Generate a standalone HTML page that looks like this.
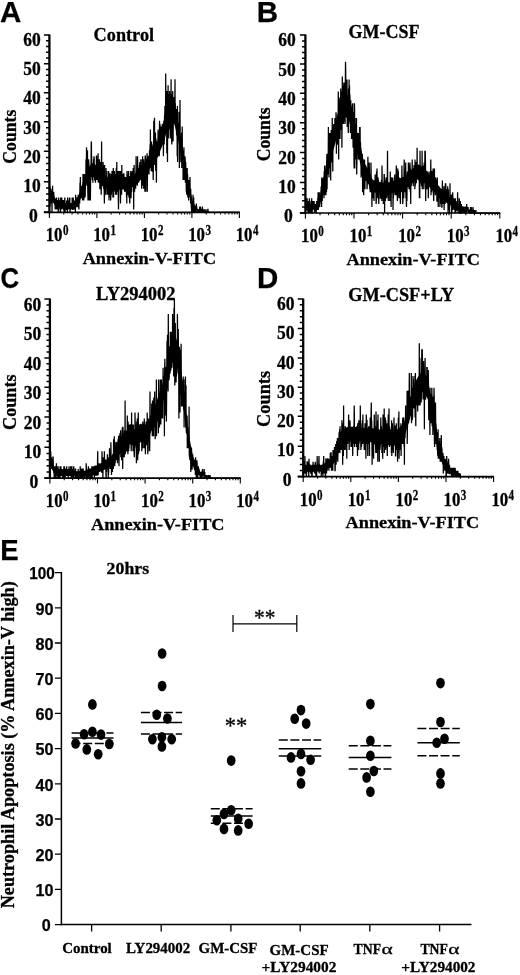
<!DOCTYPE html>
<html><head><meta charset="utf-8"><title>Figure</title>
<style>
html,body{margin:0;padding:0;background:#fff;}
body{width:520px;height:975px;overflow:hidden;font-family:"Liberation Serif",serif;}
svg{display:block;will-change:transform;transform:translateZ(0);}
.sf{font-family:"Liberation Serif",serif;font-weight:bold;fill:#000;stroke:#000;stroke-width:0.3px;}
.ss{font-family:"Liberation Sans",sans-serif;font-weight:bold;fill:#000;stroke:#000;stroke-width:0.25px;}
</style></head><body>
<svg width="520" height="975" viewBox="0 0 520 975">
<defs><filter id="soft" x="0" y="0" width="100%" height="100%" filterUnits="userSpaceOnUse"><feGaussianBlur stdDeviation="0.38"/></filter></defs>
<rect width="520" height="975" fill="#fff"/>
<g filter="url(#soft)">
<rect width="520" height="975" fill="#fff"/>
<!-- panel A -->
<path d="M49.4,184.3 50.1,186.2 50.9,188.7 51.6,191.3 52.4,193.4 53.1,194.9 53.9,196.1 54.6,197.3 55.3,198.5 56.1,199.6 56.8,200.4 57.6,200.8 58.3,201.1 59.1,201.4 59.8,201.7 60.5,202.0 61.3,202.2 62.0,202.5 62.8,202.8 63.5,203.1 64.3,203.2 65.0,203.3 65.7,203.3 66.5,203.4 67.2,203.5 68.0,203.5 68.7,203.6 69.5,203.6 70.2,203.7 70.9,203.7 71.7,203.8 72.4,203.8 73.2,203.7 73.9,203.2 74.7,202.5 75.4,201.8 76.1,201.1 76.9,200.0 77.6,198.3 78.4,196.2 79.1,194.1 79.9,192.0 80.6,189.9 81.3,187.8 82.1,185.5 82.8,183.0 83.6,180.4 84.3,177.9 85.1,175.3 85.8,172.8 86.5,170.8 87.3,169.4 88.0,168.4 88.8,167.3 89.5,166.3 90.3,165.2 91.0,164.2 91.7,163.3 92.5,163.0 93.2,163.3 94.0,163.8 94.7,164.3 95.5,164.8 96.2,165.3 96.9,166.1 97.7,167.1 98.4,168.4 99.2,169.6 99.9,170.9 100.7,172.1 101.4,173.3 102.1,174.0 102.9,174.5 103.6,174.8 104.4,175.2 105.1,175.6 105.9,176.0 106.6,176.4 107.3,176.7 108.1,177.1 108.8,177.5 109.6,177.9 110.3,178.2 111.1,178.5 111.8,178.6 112.5,178.6 113.3,178.6 114.0,178.6 114.8,178.6 115.5,178.6 116.3,178.5 117.0,178.5 117.7,178.5 118.5,178.5 119.2,178.5 120.0,178.4 120.7,178.4 121.5,178.4 122.2,178.3 122.9,178.2 123.7,178.0 124.4,177.8 125.2,177.5 125.9,177.3 126.7,177.1 127.4,176.8 128.1,176.6 128.9,176.4 129.6,176.1 130.4,175.9 131.1,175.7 131.9,175.4 132.6,175.2 133.3,174.9 134.1,174.5 134.8,173.7 135.6,172.8 136.3,171.9 137.1,171.0 137.8,170.1 138.5,169.2 139.3,168.3 140.0,167.4 140.8,166.5 141.5,165.6 142.3,164.7 143.0,163.8 143.7,162.9 144.5,162.0 145.2,161.0 146.0,159.9 146.7,158.8 147.5,157.6 148.2,156.4 149.0,155.2 149.7,154.0 150.4,152.8 151.2,151.6 151.9,150.4 152.7,149.2 153.4,148.0 154.2,146.8 154.9,145.7 155.6,144.5 156.4,143.3 157.1,141.9 157.9,140.1 158.6,138.0 159.4,135.9 160.1,133.8 160.8,131.7 161.6,129.6 162.3,127.5 163.1,125.3 163.8,123.0 164.6,120.3 165.3,117.3 166.0,114.4 166.8,111.4 167.5,108.4 168.3,105.9 169.0,104.0 169.8,102.4 170.5,100.9 171.2,100.2 172.0,100.6 172.7,101.3 173.5,102.0 174.2,103.3 175.0,105.9 175.7,109.3 176.4,112.8 177.2,116.3 177.9,119.9 178.7,123.9 179.4,128.4 180.2,133.3 180.9,138.3 181.6,143.2 182.4,148.1 183.1,153.1 183.9,158.1 184.6,162.8 185.4,166.8 186.1,170.3 186.8,173.8 187.6,177.3 188.3,180.7 189.1,184.2 189.8,187.6 190.6,191.1 191.3,194.6 192.0,198.1 192.8,201.1 193.5,203.0 194.3,204.1 195.0,205.2 195.8,206.3 196.5,207.5 L196.5,211.2 195.8,210.5 195.0,209.9 194.3,209.2 193.5,208.5 192.8,207.2 192.0,205.1 191.3,202.5 190.6,199.8 189.8,197.1 189.1,194.4 188.3,191.6 187.6,188.7 186.8,185.9 186.1,183.0 185.4,180.0 184.6,176.6 183.9,172.6 183.1,168.3 182.4,164.0 181.6,159.7 180.9,155.4 180.2,151.1 179.4,146.8 178.7,142.7 177.9,139.2 177.2,136.0 176.4,132.8 175.7,129.7 175.0,126.6 174.2,124.3 173.5,123.2 172.7,122.5 172.0,121.9 171.2,121.6 170.5,122.2 169.8,123.5 169.0,125.0 168.3,126.7 167.5,129.0 166.8,131.6 166.0,134.2 165.3,136.9 164.6,139.6 163.8,142.0 163.1,144.0 162.3,145.9 161.6,147.8 160.8,149.6 160.1,151.5 159.4,153.3 158.6,155.2 157.9,157.0 157.1,158.6 156.4,159.8 155.6,160.8 154.9,161.9 154.2,162.9 153.4,163.9 152.7,165.0 151.9,166.0 151.2,167.0 150.4,168.1 149.7,169.1 149.0,170.1 148.2,171.1 147.5,172.2 146.7,173.2 146.0,174.2 145.2,175.1 144.5,176.0 143.7,176.7 143.0,177.5 142.3,178.3 141.5,179.0 140.8,179.8 140.0,180.5 139.3,181.3 138.5,182.0 137.8,182.8 137.1,183.6 136.3,184.3 135.6,185.1 134.8,185.8 134.1,186.4 133.3,186.8 132.6,187.1 131.9,187.2 131.1,187.4 130.4,187.6 129.6,187.8 128.9,188.0 128.1,188.2 127.4,188.4 126.7,188.6 125.9,188.8 125.2,189.0 124.4,189.2 123.7,189.4 122.9,189.5 122.2,189.6 121.5,189.7 120.7,189.7 120.0,189.7 119.2,189.7 118.5,189.7 117.7,189.8 117.0,189.8 116.3,189.8 115.5,189.8 114.8,189.8 114.0,189.8 113.3,189.9 112.5,189.9 111.8,189.9 111.1,189.8 110.3,189.6 109.6,189.3 108.8,188.9 108.1,188.6 107.3,188.3 106.6,188.0 105.9,187.7 105.1,187.4 104.4,187.1 103.6,186.7 102.9,186.4 102.1,186.1 101.4,185.4 100.7,184.5 99.9,183.5 99.2,182.4 98.4,181.3 97.7,180.3 96.9,179.4 96.2,178.8 95.5,178.3 94.7,177.9 94.0,177.5 93.2,177.1 92.5,176.8 91.7,177.1 91.0,177.8 90.3,178.7 89.5,179.6 88.8,180.5 88.0,181.3 87.3,182.2 86.5,183.4 85.8,185.1 85.1,187.1 84.3,189.2 83.6,191.3 82.8,193.4 82.1,195.4 81.3,197.2 80.6,198.9 79.9,200.5 79.1,202.1 78.4,203.7 77.6,205.2 76.9,206.5 76.1,207.2 75.4,207.7 74.7,208.1 73.9,208.6 73.2,208.9 72.4,209.0 71.7,209.0 70.9,209.0 70.2,208.9 69.5,208.9 68.7,208.8 68.0,208.8 67.2,208.8 66.5,208.7 65.7,208.7 65.0,208.7 64.3,208.6 63.5,208.5 62.8,208.4 62.0,208.2 61.3,208.0 60.5,207.8 59.8,207.6 59.1,207.4 58.3,207.2 57.6,207.0 56.8,206.7 56.1,206.1 55.3,205.3 54.6,204.5 53.9,203.6 53.1,202.7 52.4,201.6 51.6,200.0 50.9,198.0 50.1,196.0 49.4,194.5 Z" fill="#000" stroke="none"/>
<path d="M49.4,173.9 49.6,188.7 49.8,194.7 50.0,206.5 50.1,191.7 50.3,191.7 50.5,194.7 50.7,194.7 50.9,188.7 51.1,203.5 51.3,200.6 51.4,197.6 51.6,191.7 51.8,191.7 52.0,212.4 52.2,200.6 52.4,194.7 52.6,185.8 52.7,197.6 52.9,200.6 53.1,191.7 53.3,200.6 53.5,197.6 53.7,191.7 53.9,194.7 54.0,197.6 54.2,197.6 54.4,203.5 54.6,200.6 54.8,203.5 55.0,203.5 55.2,209.4 55.3,203.5 55.5,206.5 55.7,203.5 55.9,200.6 56.1,200.6 56.3,197.6 56.5,209.4 56.6,197.6 56.8,206.5 57.0,209.4 57.2,203.5 57.4,200.6 57.6,200.6 57.8,209.4 57.9,206.5 58.1,206.5 58.3,212.4 58.5,212.4 58.7,197.6 58.9,200.6 59.1,200.6 59.2,200.6 59.4,203.5 59.6,203.5 59.8,200.6 60.0,209.4 60.2,206.5 60.4,203.5 60.5,212.4 60.7,197.6 60.9,206.5 61.1,203.5 61.3,197.6 61.5,209.4 61.7,206.5 61.8,197.6 62.0,209.4 62.2,206.5 62.4,203.5 62.6,203.5 62.8,203.5 63.0,206.5 63.1,200.6 63.3,200.6 63.5,203.5 63.7,209.4 63.9,209.4 64.1,212.4 64.3,203.5 64.4,212.4 64.6,200.6 64.8,197.6 65.0,212.4 65.2,209.4 65.4,206.5 65.6,203.5 65.7,209.4 65.9,206.5 66.1,209.4 66.3,209.4 66.5,200.6 66.7,209.4 66.9,206.5 67.0,203.5 67.2,203.5 67.4,212.4 67.6,197.6 67.8,206.5 68.0,203.5 68.2,206.5 68.3,209.4 68.5,206.5 68.7,200.6 68.9,206.5 69.1,206.5 69.3,200.6 69.5,197.6 69.6,206.5 69.8,197.6 70.0,212.4 70.2,212.4 70.4,203.5 70.6,206.5 70.8,206.5 70.9,203.5 71.1,203.5 71.3,206.5 71.5,203.5 71.7,209.4 71.9,206.5 72.1,203.5 72.2,197.6 72.4,209.4 72.6,206.5 72.8,209.4 73.0,209.4 73.2,197.6 73.4,203.5 73.5,209.4 73.7,206.5 73.9,203.5 74.1,209.4 74.3,206.5 74.5,200.6 74.7,203.5 74.8,203.5 75.0,206.5 75.2,206.5 75.4,212.4 75.6,194.7 75.8,203.5 76.0,206.5 76.1,206.5 76.3,206.5 76.5,203.5 76.7,200.6 76.9,206.5 77.1,197.6 77.3,197.6 77.4,206.5 77.6,203.5 77.8,206.5 78.0,206.5 78.2,194.7 78.4,197.6 78.6,200.6 78.7,206.5 78.9,209.4 79.1,197.6 79.3,200.6 79.5,194.7 79.7,203.5 79.9,188.7 80.0,182.8 80.2,185.8 80.4,176.9 80.6,194.7 80.8,188.7 81.0,197.6 81.2,185.8 81.3,197.6 81.5,197.6 81.7,194.7 81.9,185.8 82.1,188.7 82.3,191.7 82.5,200.6 82.6,188.7 82.8,200.6 83.0,173.9 83.2,191.7 83.4,182.8 83.6,182.8 83.8,200.6 83.9,197.6 84.1,182.8 84.3,173.9 84.5,191.7 84.7,188.7 84.9,188.7 85.1,197.6 85.2,194.7 85.4,185.8 85.6,179.9 85.8,176.9 86.0,159.2 86.2,182.8 86.4,171.0 86.5,147.3 86.7,159.2 86.9,185.8 87.1,176.9 87.3,168.0 87.5,150.3 87.7,182.8 87.8,191.7 88.0,200.6 88.2,188.7 88.4,173.9 88.6,159.2 88.8,162.1 89.0,165.1 89.1,200.6 89.3,173.9 89.5,173.9 89.7,171.0 89.9,173.9 90.1,185.8 90.3,168.0 90.4,200.6 90.6,176.9 90.8,165.1 91.0,168.0 91.2,144.4 91.4,141.4 91.6,171.0 91.7,156.2 91.9,173.9 92.1,165.1 92.3,179.9 92.5,165.1 92.7,165.1 92.9,182.8 93.0,168.0 93.2,173.9 93.4,176.9 93.6,159.2 93.8,168.0 94.0,156.2 94.2,159.2 94.3,173.9 94.5,171.0 94.7,179.9 94.9,179.9 95.1,179.9 95.3,173.9 95.5,182.8 95.6,173.9 95.8,168.0 96.0,173.9 96.2,176.9 96.4,156.2 96.6,156.2 96.8,179.9 96.9,168.0 97.1,176.9 97.3,171.0 97.5,159.2 97.7,173.9 97.9,162.1 98.1,153.2 98.2,179.9 98.4,182.8 98.6,173.9 98.8,171.0 99.0,171.0 99.2,171.0 99.4,159.2 99.5,168.0 99.7,173.9 99.9,188.7 100.1,188.7 100.3,162.1 100.5,173.9 100.7,182.8 100.8,179.9 101.0,182.8 101.2,194.7 101.4,176.9 101.6,141.4 101.8,179.9 102.0,171.0 102.1,182.8 102.3,173.9 102.5,176.9 102.7,176.9 102.9,173.9 103.1,162.1 103.3,179.9 103.4,165.1 103.6,188.7 103.8,176.9 104.0,179.9 104.2,191.7 104.4,203.5 104.6,165.1 104.7,194.7 104.9,194.7 105.1,182.8 105.3,182.8 105.5,179.9 105.7,185.8 105.9,194.7 106.0,168.0 106.2,188.7 106.4,182.8 106.6,176.9 106.8,171.0 107.0,185.8 107.2,188.7 107.3,188.7 107.5,194.7 107.7,191.7 107.9,188.7 108.1,194.7 108.3,176.9 108.5,185.8 108.6,171.0 108.8,173.9 109.0,200.6 109.2,176.9 109.4,197.6 109.6,179.9 109.8,179.9 109.9,173.9 110.1,173.9 110.3,176.9 110.5,188.7 110.7,200.6 110.9,194.7 111.1,191.7 111.2,185.8 111.4,194.7 111.6,173.9 111.8,185.8 112.0,171.0 112.2,185.8 112.4,173.9 112.5,191.7 112.7,179.9 112.9,197.6 113.1,179.9 113.3,168.0 113.5,197.6 113.7,194.7 113.8,182.8 114.0,182.8 114.2,188.7 114.4,171.0 114.6,182.8 114.8,176.9 115.0,185.8 115.1,191.7 115.3,182.8 115.5,173.9 115.7,194.7 115.9,185.8 116.1,173.9 116.3,168.0 116.4,173.9 116.6,194.7 116.8,162.1 117.0,188.7 117.2,182.8 117.4,185.8 117.6,185.8 117.7,191.7 117.9,185.8 118.1,171.0 118.3,197.6 118.5,209.4 118.7,179.9 118.9,179.9 119.0,179.9 119.2,171.0 119.4,188.7 119.6,185.8 119.8,179.9 120.0,176.9 120.2,171.0 120.3,191.7 120.5,203.5 120.7,188.7 120.9,194.7 121.1,171.0 121.3,188.7 121.5,188.7 121.6,194.7 121.8,165.1 122.0,185.8 122.2,188.7 122.4,179.9 122.6,188.7 122.8,179.9 122.9,173.9 123.1,185.8 123.3,176.9 123.5,179.9 123.7,173.9 123.9,173.9 124.1,182.8 124.2,185.8 124.4,182.8 124.6,191.7 124.8,176.9 125.0,179.9 125.2,179.9 125.4,188.7 125.5,188.7 125.7,191.7 125.9,176.9 126.1,185.8 126.3,182.8 126.5,197.6 126.7,185.8 126.8,203.5 127.0,171.0 127.2,179.9 127.4,185.8 127.6,194.7 127.8,194.7 128.0,179.9 128.1,182.8 128.3,179.9 128.5,171.0 128.7,173.9 128.9,197.6 129.1,191.7 129.3,185.8 129.4,188.7 129.6,200.6 129.8,203.5 130.0,188.7 130.2,185.8 130.4,182.8 130.6,188.7 130.7,171.0 130.9,197.6 131.1,197.6 131.3,182.8 131.5,179.9 131.7,191.7 131.9,173.9 132.0,173.9 132.2,171.0 132.4,185.8 132.6,176.9 132.8,176.9 133.0,182.8 133.2,168.0 133.3,182.8 133.5,176.9 133.7,209.4 133.9,171.0 134.1,165.1 134.3,179.9 134.5,173.9 134.6,191.7 134.8,176.9 135.0,188.7 135.2,176.9 135.4,173.9 135.6,188.7 135.8,182.8 135.9,179.9 136.1,156.2 136.3,179.9 136.5,176.9 136.7,176.9 136.9,176.9 137.1,176.9 137.2,185.8 137.4,182.8 137.6,156.2 137.8,171.0 138.0,176.9 138.2,179.9 138.4,173.9 138.5,173.9 138.7,182.8 138.9,168.0 139.1,176.9 139.3,171.0 139.5,165.1 139.7,176.9 139.8,162.1 140.0,179.9 140.2,173.9 140.4,171.0 140.6,173.9 140.8,159.2 141.0,171.0 141.1,171.0 141.3,168.0 141.5,165.1 141.7,188.7 141.9,173.9 142.1,179.9 142.3,159.2 142.4,179.9 142.6,156.2 142.8,185.8 143.0,168.0 143.2,159.2 143.4,168.0 143.6,159.2 143.7,188.7 143.9,168.0 144.1,168.0 144.3,173.9 144.5,179.9 144.7,165.1 144.9,191.7 145.1,159.2 145.2,156.2 145.4,156.2 145.6,171.0 145.8,191.7 146.0,171.0 146.2,171.0 146.4,165.1 146.5,165.1 146.7,159.2 146.9,162.1 147.1,153.2 147.3,191.7 147.5,171.0 147.7,156.2 147.8,162.1 148.0,171.0 148.2,168.0 148.4,171.0 148.6,165.1 148.8,173.9 149.0,173.9 149.1,165.1 149.3,168.0 149.5,150.3 149.7,168.0 149.9,153.2 150.1,144.4 150.3,156.2 150.4,129.6 150.6,159.2 150.8,141.4 151.0,156.2 151.2,171.0 151.4,153.2 151.6,141.4 151.7,168.0 151.9,156.2 152.1,171.0 152.3,171.0 152.5,147.3 152.7,156.2 152.9,150.3 153.0,144.4 153.2,179.9 153.4,165.1 153.6,150.3 153.8,120.7 154.0,162.1 154.2,159.2 154.3,156.2 154.5,117.7 154.7,165.1 154.9,153.2 155.1,147.3 155.3,141.4 155.5,132.5 155.6,165.1 155.8,171.0 156.0,138.4 156.2,147.3 156.4,182.8 156.6,159.2 156.8,141.4 156.9,153.2 157.1,141.4 157.3,147.3 157.5,147.3 157.7,141.4 157.9,150.3 158.1,129.6 158.2,156.2 158.4,147.3 158.6,132.5 158.8,156.2 159.0,147.3 159.2,156.2 159.4,153.2 159.5,120.7 159.7,138.4 159.9,123.7 160.1,126.6 160.3,144.4 160.5,141.4 160.7,129.6 160.8,144.4 161.0,126.6 161.2,144.4 161.4,135.5 161.6,132.5 161.8,132.5 162.0,138.4 162.1,132.5 162.3,123.7 162.5,129.6 162.7,135.5 162.9,141.4 163.1,126.6 163.3,132.5 163.4,156.2 163.6,135.5 163.8,120.7 164.0,135.5 164.2,144.4 164.4,120.7 164.6,114.8 164.7,120.7 164.9,105.9 165.1,132.5 165.3,120.7 165.5,123.7 165.7,73.4 165.9,108.9 166.0,114.8 166.2,117.7 166.4,129.6 166.6,111.8 166.8,153.2 167.0,91.1 167.2,105.9 167.3,141.4 167.5,162.1 167.7,91.1 167.9,126.6 168.1,85.2 168.3,138.4 168.5,108.9 168.6,123.7 168.8,100.0 169.0,120.7 169.2,94.1 169.4,129.6 169.6,91.1 169.8,114.8 169.9,103.0 170.1,132.5 170.3,138.4 170.5,94.1 170.7,126.6 170.9,117.7 171.1,79.3 171.2,126.6 171.4,111.8 171.6,138.4 171.8,144.4 172.0,94.1 172.2,117.7 172.4,103.0 172.5,111.8 172.7,91.1 172.9,108.9 173.1,141.4 173.3,117.7 173.5,117.7 173.7,97.0 173.8,105.9 174.0,120.7 174.2,108.9 174.4,123.7 174.6,105.9 174.8,111.8 175.0,79.3 175.1,108.9 175.3,103.0 175.5,117.7 175.7,111.8 175.9,117.7 176.1,108.9 176.3,114.8 176.4,126.6 176.6,135.5 176.8,123.7 177.0,114.8 177.2,156.2 177.4,105.9 177.6,162.1 177.7,135.5 177.9,132.5 178.1,123.7 178.3,135.5 178.5,135.5 178.7,132.5 178.9,123.7 179.0,111.8 179.2,132.5 179.4,168.0 179.6,135.5 179.8,132.5 180.0,100.0 180.2,144.4 180.3,141.4 180.5,135.5 180.7,147.3 180.9,162.1 181.1,138.4 181.3,162.1 181.5,162.1 181.6,132.5 181.8,168.0 182.0,153.2 182.2,126.6 182.4,156.2 182.6,165.1 182.8,162.1 182.9,150.3 183.1,179.9 183.3,171.0 183.5,179.9 183.7,176.9 183.9,147.3 184.1,168.0 184.2,168.0 184.4,159.2 184.6,176.9 184.8,179.9 185.0,156.2 185.2,159.2 185.4,182.8 185.5,168.0 185.7,162.1 185.9,171.0 186.1,173.9 186.3,191.7 186.5,182.8 186.7,194.7 186.8,168.0 187.0,182.8 187.2,168.0 187.4,191.7 187.6,173.9 187.8,197.6 188.0,188.7 188.1,179.9 188.3,182.8 188.5,185.8 188.7,200.6 188.9,179.9 189.1,185.8 189.3,182.8 189.4,182.8 189.6,191.7 189.8,185.8 190.0,176.9 190.2,197.6 190.4,191.7 190.6,203.5 190.7,188.7 190.9,197.6 191.1,200.6 191.3,206.5 191.5,209.4 191.7,212.4 191.9,212.4 192.0,200.6 192.2,212.4 192.4,200.6 192.6,209.4 192.8,206.5 193.0,194.7 193.2,209.4 193.3,212.4 193.5,200.6 193.7,197.6 193.9,209.4 194.1,212.4 194.3,206.5 194.5,209.4 194.6,206.5 194.8,212.4 195.0,209.4 195.2,209.4 195.4,209.4 195.6,212.4 195.8,206.5 195.9,206.5 196.1,212.4 196.3,203.5 196.5,206.5 196.7,206.5 196.9,209.4 197.1,209.4 197.2,209.4 197.4,209.4 197.6,209.4 197.8,212.4 198.0,212.4 198.2,212.4 198.4,212.4 198.5,209.4 198.7,212.4 198.9,209.4 199.1,212.4 199.3,212.4 199.5,212.4 199.7,206.5 199.8,209.4 200.0,209.4 200.2,209.4 200.4,206.5 200.6,212.4 200.8,212.4 201.0,209.4 201.1,212.4 201.3,212.4 201.5,209.4 201.7,209.4 201.9,209.4 202.1,209.4 202.3,209.4 202.4,206.5 202.6,209.4 202.8,212.4 203.0,212.4 203.2,209.4 203.4,212.4 203.6,212.4 203.7,212.4 203.9,212.4 204.1,212.4 204.3,212.4 204.5,209.4 204.7,212.4 204.9,212.4 205.0,212.4 205.2,212.4 205.4,212.4 205.6,212.4 205.8,212.4 206.0,209.4 206.2,212.4 206.3,212.4 206.5,212.4 206.7,212.4 206.9,212.4 207.1,212.4 207.3,212.4 207.5,212.4 207.6,212.4 207.8,209.4 208.0,209.4 208.2,212.4 208.4,212.4 208.6,212.4 208.8,212.4 208.9,212.4 209.1,212.4 209.3,212.4 209.5,212.4 209.7,212.4 209.9,212.4 210.1,212.4 210.2,212.4 210.4,212.4 210.6,212.4 210.8,212.4 211.0,212.4 211.2,212.4 211.4,212.4 211.5,212.4 211.7,212.4 211.9,212.4 212.1,212.4 212.3,212.4 212.5,212.4 212.7,212.4 212.8,212.4 213.0,212.4 213.2,212.4 213.4,212.4 213.6,212.4 213.8,212.4 214.0,212.4 214.1,212.4 214.3,212.4 214.5,212.4 214.7,212.4 214.9,212.4 215.1,212.4 215.3,212.4 215.4,212.4 215.6,212.4 215.8,212.4 216.0,212.4 216.2,212.4 216.4,212.4 216.6,212.4 216.7,212.4 216.9,212.4 217.1,212.4 217.3,212.4 217.5,212.4 217.7,212.4 217.9,212.4 218.0,212.4 218.2,212.4 218.4,212.4 218.6,212.4 218.8,212.4 219.0,212.4 219.2,212.4 219.3,212.4 219.5,212.4 219.7,212.4 219.9,212.4 220.1,212.4 220.3,212.4 220.5,212.4 220.6,212.4 220.8,212.4 221.0,212.4 221.2,212.4 221.4,212.4 221.6,212.4 221.8,212.4 221.9,212.4 222.1,212.4 222.3,212.4 222.5,212.4 222.7,212.4 222.9,212.4 223.1,212.4 223.2,212.4 223.4,212.4 223.6,212.4 223.8,212.4 224.0,212.4 224.2,212.4 224.4,212.4 224.5,212.4 224.7,212.4 224.9,212.4 225.1,212.4 225.3,212.4 225.5,212.4 225.7,212.4 225.8,212.4 226.0,212.4 226.2,212.4 226.4,212.4 226.6,212.4 226.8,212.4 227.0,212.4 227.1,212.4 227.3,212.4 227.5,212.4 227.7,212.4 227.9,212.4 228.1,212.4 228.3,212.4 228.4,212.4 228.6,212.4 228.8,212.4 229.0,212.4 229.2,212.4 229.4,212.4 229.6,212.4 229.7,212.4 229.9,212.4 230.1,212.4 230.3,212.4 230.5,212.4 230.7,212.4 230.9,212.4 231.0,212.4 231.2,212.4 231.4,212.4 231.6,212.4 231.8,212.4 232.0,212.4 232.2,212.4 232.3,212.4 232.5,212.4 232.7,212.4 232.9,212.4 233.1,212.4 233.3,212.4 233.5,212.4 233.6,212.4 233.8,212.4 234.0,212.4 234.2,212.4 234.4,212.4 234.6,212.4 234.8,212.4 234.9,212.4 235.1,212.4 235.3,212.4 235.5,212.4 235.7,212.4 235.9,212.4 236.1,212.4 236.2,212.4 236.4,212.4 236.6,212.4 236.8,212.4 237.0,212.4 237.2,212.4 237.4,212.4 237.5,212.4 237.7,212.4 237.9,212.4 238.1,212.4 238.3,212.4 238.5,212.4 238.7,212.4 238.8,212.4 239.0,212.4 239.2,212.4 239.4,212.4" fill="none" stroke="#000" stroke-width="1.25" stroke-linejoin="miter"/>
<path d="M49.4,34.5 V213.3" stroke="#000" stroke-width="2.3" fill="none"/>
<path d="M43.9,212.4 H239.9" stroke="#000" stroke-width="1.7" fill="none"/>
<path d="M43.9,212.00 H49.4 M46.0,205.97 H49.4 M46.0,199.94 H49.4 M46.0,193.91 H49.4 M46.0,187.88 H49.4 M43.9,181.85 H49.4 M46.0,175.74 H49.4 M46.0,169.63 H49.4 M46.0,163.52 H49.4 M46.0,157.41 H49.4 M43.9,151.30 H49.4 M46.0,145.40 H49.4 M46.0,139.50 H49.4 M46.0,133.60 H49.4 M46.0,127.70 H49.4 M43.9,121.80 H49.4 M46.0,115.98 H49.4 M46.0,110.16 H49.4 M46.0,104.34 H49.4 M46.0,98.52 H49.4 M43.9,92.70 H49.4 M46.0,86.92 H49.4 M46.0,81.14 H49.4 M46.0,75.36 H49.4 M46.0,69.58 H49.4 M43.9,63.80 H49.4 M46.0,58.02 H49.4 M46.0,52.24 H49.4 M46.0,46.46 H49.4 M46.0,40.68 H49.4 M43.9,34.90 H49.4 " stroke="#000" stroke-width="1.5" fill="none"/>
<path d="M49.40,212.4 V217.9 M63.70,212.4 V214.6 M72.06,212.4 V214.6 M78.00,212.4 V214.6 M82.60,212.4 V214.6 M86.36,212.4 V214.6 M89.54,212.4 V214.6 M92.30,212.4 V214.6 M94.73,212.4 V214.6 M96.90,212.4 V217.9 M111.20,212.4 V214.6 M119.56,212.4 V214.6 M125.50,212.4 V214.6 M130.10,212.4 V214.6 M133.86,212.4 V214.6 M137.04,212.4 V214.6 M139.80,212.4 V214.6 M142.23,212.4 V214.6 M144.40,212.4 V217.9 M158.70,212.4 V214.6 M167.06,212.4 V214.6 M173.00,212.4 V214.6 M177.60,212.4 V214.6 M181.36,212.4 V214.6 M184.54,212.4 V214.6 M187.30,212.4 V214.6 M189.73,212.4 V214.6 M191.90,212.4 V217.9 M206.20,212.4 V214.6 M214.56,212.4 V214.6 M220.50,212.4 V214.6 M225.10,212.4 V214.6 M228.86,212.4 V214.6 M232.04,212.4 V214.6 M234.80,212.4 V214.6 M237.23,212.4 V214.6 M239.40,212.4 V217.9 " stroke="#000" stroke-width="1.1" fill="none"/>
<text class="sf" x="37.7" y="221.5" font-size="18.4" text-anchor="end" textLength="8.8" lengthAdjust="spacingAndGlyphs">0</text>
<text class="sf" x="40.7" y="192.2" font-size="18.4" text-anchor="end" textLength="17.5" lengthAdjust="spacingAndGlyphs">10</text>
<text class="sf" x="40.7" y="162.9" font-size="18.4" text-anchor="end" textLength="17.5" lengthAdjust="spacingAndGlyphs">20</text>
<text class="sf" x="40.7" y="133.6" font-size="18.4" text-anchor="end" textLength="17.5" lengthAdjust="spacingAndGlyphs">30</text>
<text class="sf" x="40.7" y="104.3" font-size="18.4" text-anchor="end" textLength="17.5" lengthAdjust="spacingAndGlyphs">40</text>
<text class="sf" x="40.7" y="75.0" font-size="18.4" text-anchor="end" textLength="17.5" lengthAdjust="spacingAndGlyphs">50</text>
<text class="sf" x="40.7" y="45.7" font-size="18.4" text-anchor="end" textLength="17.5" lengthAdjust="spacingAndGlyphs">60</text>
<text class="sf" x="45.7" y="240.9" font-size="18.5" textLength="16.8" lengthAdjust="spacingAndGlyphs">10</text>
<text class="sf" x="62.9" y="234.9" font-size="14.5" textLength="5.5" lengthAdjust="spacingAndGlyphs">0</text>
<text class="sf" x="93.2" y="240.9" font-size="18.5" textLength="16.8" lengthAdjust="spacingAndGlyphs">10</text>
<text class="sf" x="110.4" y="234.9" font-size="14.5" textLength="5.5" lengthAdjust="spacingAndGlyphs">1</text>
<text class="sf" x="140.7" y="240.9" font-size="18.5" textLength="16.8" lengthAdjust="spacingAndGlyphs">10</text>
<text class="sf" x="157.9" y="234.9" font-size="14.5" textLength="5.5" lengthAdjust="spacingAndGlyphs">2</text>
<text class="sf" x="188.2" y="240.9" font-size="18.5" textLength="16.8" lengthAdjust="spacingAndGlyphs">10</text>
<text class="sf" x="205.4" y="234.9" font-size="14.5" textLength="5.5" lengthAdjust="spacingAndGlyphs">3</text>
<text class="sf" x="235.7" y="240.9" font-size="18.5" textLength="16.8" lengthAdjust="spacingAndGlyphs">10</text>
<text class="sf" x="252.9" y="234.9" font-size="14.5" textLength="5.5" lengthAdjust="spacingAndGlyphs">4</text>
<text class="ss" x="0" y="21.8" font-size="29.5" stroke="#000" stroke-width="0.6">A</text>
<text class="sf" x="93.6" y="40.5" font-size="19.5" textLength="60.5" lengthAdjust="spacingAndGlyphs">Control</text>
<text class="sf" transform="translate(15.5 163.7) rotate(-90)" font-size="18" textLength="54" lengthAdjust="spacingAndGlyphs">Counts</text>
<text class="sf" x="82.7" y="264.0" font-size="17.7" textLength="133.5" lengthAdjust="spacingAndGlyphs">Annexin-V-FITC</text>
<!-- panel B -->
<path d="M305.4,202.6 306.2,202.8 306.9,203.1 307.7,203.3 308.4,203.6 309.2,203.9 310.0,204.1 310.7,204.2 311.5,204.2 312.2,204.1 313.0,204.1 313.8,204.0 314.5,203.9 315.3,203.9 316.0,203.8 316.8,203.7 317.6,203.6 318.3,202.9 319.1,200.5 319.8,197.0 320.6,193.3 321.4,189.7 322.1,185.9 322.9,181.8 323.6,177.7 324.4,173.6 325.2,169.6 325.9,165.5 326.7,161.5 327.4,157.5 328.2,153.5 329.0,149.6 329.7,146.1 330.5,142.9 331.2,139.7 332.0,136.6 332.8,133.4 333.5,130.3 334.3,127.2 335.0,124.0 335.8,120.9 336.6,118.0 337.3,115.2 338.1,112.5 338.8,109.8 339.6,107.2 340.4,104.5 341.1,101.9 341.9,99.4 342.6,97.4 343.4,96.2 344.2,95.1 344.9,94.1 345.7,93.6 346.4,94.0 347.2,95.1 348.0,96.1 348.7,97.2 349.5,98.4 350.2,100.4 351.0,103.6 351.8,107.2 352.5,110.9 353.3,114.6 354.0,118.3 354.8,121.9 355.6,125.3 356.3,128.6 357.1,131.9 357.8,135.2 358.6,138.6 359.4,141.9 360.1,145.2 360.9,148.5 361.6,151.8 362.4,155.2 363.2,158.4 363.9,161.1 364.7,163.0 365.4,164.6 366.2,166.2 367.0,167.8 367.7,169.4 368.5,171.0 369.2,172.6 370.0,174.2 370.8,175.8 371.5,177.4 372.3,179.0 373.1,180.1 373.8,180.6 374.6,180.8 375.3,181.0 376.1,181.2 376.9,181.3 377.6,181.5 378.4,181.7 379.1,181.8 379.9,182.0 380.7,182.2 381.4,182.4 382.2,182.5 382.9,182.7 383.7,182.7 384.5,182.6 385.2,182.6 386.0,182.5 386.7,182.5 387.5,182.4 388.3,182.3 389.0,182.3 389.8,182.2 390.5,182.2 391.3,182.0 392.1,181.8 392.8,181.5 393.6,181.1 394.3,180.8 395.1,180.4 395.9,180.1 396.6,179.7 397.4,179.4 398.1,179.1 398.9,178.7 399.7,178.4 400.4,178.0 401.2,177.7 401.9,177.4 402.7,177.0 403.5,176.7 404.2,176.3 405.0,176.0 405.7,175.6 406.5,175.0 407.3,174.2 408.0,173.4 408.8,172.7 409.5,171.9 410.3,171.1 411.1,170.3 411.8,169.5 412.6,168.9 413.3,168.2 414.1,167.7 414.9,167.1 415.6,166.5 416.4,165.9 417.1,165.3 417.9,164.8 418.7,164.5 419.4,164.8 420.2,165.3 420.9,165.9 421.7,166.5 422.5,167.1 423.2,167.7 424.0,168.3 424.7,168.9 425.5,169.7 426.3,170.6 427.0,171.5 427.8,172.4 428.5,173.3 429.3,174.2 430.1,175.1 430.8,176.0 431.6,176.9 432.3,177.9 433.1,178.8 433.9,179.7 434.6,180.7 435.4,181.6 436.1,182.6 436.9,183.5 437.7,184.4 438.4,185.4 439.2,186.3 439.9,187.3 440.7,188.2 441.5,189.2 442.2,190.1 443.0,190.9 443.7,191.6 444.5,192.3 445.3,193.0 446.0,193.7 446.8,194.4 447.5,195.0 448.3,195.7 449.1,196.4 449.8,197.2 450.6,197.9 451.3,198.6 452.1,199.3 452.9,200.0 453.6,200.6 454.4,201.2 455.1,201.7 455.9,202.2 456.7,202.6 457.4,203.1 458.2,203.6 458.9,204.1 459.7,204.6 460.5,205.1 461.2,205.6 462.0,206.1 462.7,206.7 463.5,207.2 464.3,207.7 465.0,208.1 465.8,208.5 466.5,208.8 L466.5,212.4 465.8,212.2 465.0,212.0 464.3,211.8 463.5,211.5 462.7,211.2 462.0,210.9 461.2,210.6 460.5,210.3 459.7,210.0 458.9,209.7 458.2,209.4 457.4,209.1 456.7,208.8 455.9,208.5 455.1,208.1 454.4,207.8 453.6,207.4 452.9,207.0 452.1,206.5 451.3,206.0 450.6,205.5 449.8,205.0 449.1,204.5 448.3,204.0 447.5,203.5 446.8,203.0 446.0,202.4 445.3,201.9 444.5,201.4 443.7,200.9 443.0,200.4 442.2,199.7 441.5,199.0 440.7,198.3 439.9,197.6 439.2,196.8 438.4,196.1 437.7,195.4 436.9,194.6 436.1,193.9 435.4,193.1 434.6,192.4 433.9,191.6 433.1,190.9 432.3,190.1 431.6,189.4 430.8,188.6 430.1,187.9 429.3,187.1 428.5,186.4 427.8,185.6 427.0,184.9 426.3,184.1 425.5,183.4 424.7,182.8 424.0,182.2 423.2,181.7 422.5,181.3 421.7,180.8 420.9,180.3 420.2,179.8 419.4,179.3 418.7,179.1 417.9,179.3 417.1,179.8 416.4,180.3 415.6,180.7 414.9,181.2 414.1,181.7 413.3,182.2 412.6,182.7 411.8,183.3 411.1,183.9 410.3,184.6 409.5,185.2 408.8,185.9 408.0,186.5 407.3,187.2 406.5,187.8 405.7,188.3 405.0,188.6 404.2,188.9 403.5,189.1 402.7,189.4 401.9,189.7 401.2,190.0 400.4,190.2 399.7,190.5 398.9,190.8 398.1,191.1 397.4,191.3 396.6,191.6 395.9,191.9 395.1,192.2 394.3,192.5 393.6,192.7 392.8,193.0 392.1,193.3 391.3,193.5 390.5,193.6 389.8,193.6 389.0,193.7 388.3,193.7 387.5,193.8 386.7,193.8 386.0,193.8 385.2,193.9 384.5,193.9 383.7,194.0 382.9,194.0 382.2,193.8 381.4,193.7 380.7,193.6 379.9,193.4 379.1,193.3 378.4,193.2 377.6,193.0 376.9,192.9 376.1,192.8 375.3,192.6 374.6,192.5 373.8,192.3 373.1,191.9 372.3,191.0 371.5,189.7 370.8,188.4 370.0,187.1 369.2,185.8 368.5,184.5 367.7,183.1 367.0,181.8 366.2,180.5 365.4,179.1 364.7,177.8 363.9,176.2 363.2,174.0 362.4,171.2 361.6,168.4 360.9,165.5 360.1,162.7 359.4,159.8 358.6,156.9 357.8,154.0 357.1,151.2 356.3,148.3 355.6,145.4 354.8,142.3 354.0,139.1 353.3,135.9 352.5,132.6 351.8,129.3 351.0,126.1 350.2,123.3 349.5,121.5 348.7,120.4 348.0,119.5 347.2,118.5 346.4,117.6 345.7,117.2 344.9,117.6 344.2,118.5 343.4,119.5 342.6,120.6 341.9,122.3 341.1,124.6 340.4,126.9 339.6,129.3 338.8,131.7 338.1,134.0 337.3,136.4 336.6,138.9 335.8,141.5 335.0,144.2 334.3,147.0 333.5,149.7 332.8,152.5 332.0,155.2 331.2,157.9 330.5,160.7 329.7,163.4 329.0,166.4 328.2,169.7 327.4,173.2 326.7,176.6 325.9,179.9 325.2,183.3 324.4,186.7 323.6,190.0 322.9,193.3 322.1,196.5 321.4,199.4 320.6,202.2 319.8,204.9 319.1,207.4 318.3,208.9 317.6,209.4 316.8,209.5 316.0,209.5 315.3,209.6 314.5,209.6 313.8,209.6 313.0,209.7 312.2,209.7 311.5,209.8 310.7,209.8 310.0,209.7 309.2,209.6 308.4,209.4 307.7,209.2 306.9,209.0 306.2,208.9 305.4,208.7 Z" fill="#000" stroke="none"/>
<path d="M305.4,204.1 305.6,204.1 305.8,210.0 306.0,198.2 306.2,201.1 306.4,210.0 306.5,207.1 306.7,210.0 306.9,210.0 307.1,198.2 307.3,204.1 307.5,204.1 307.7,204.1 307.9,207.1 308.1,213.0 308.3,210.0 308.4,204.1 308.6,201.1 308.8,213.0 309.0,210.0 309.2,207.1 309.4,198.2 309.6,207.1 309.8,204.1 310.0,204.1 310.2,213.0 310.3,207.1 310.5,204.1 310.7,207.1 310.9,213.0 311.1,201.1 311.3,204.1 311.5,204.1 311.7,198.2 311.9,207.1 312.1,213.0 312.2,213.0 312.4,207.1 312.6,201.1 312.8,207.1 313.0,207.1 313.2,201.1 313.4,204.1 313.6,204.1 313.8,207.1 314.0,207.1 314.1,201.1 314.3,207.1 314.5,213.0 314.7,207.1 314.9,207.1 315.1,207.1 315.3,204.1 315.5,207.1 315.7,207.1 315.9,213.0 316.0,204.1 316.2,213.0 316.4,207.1 316.6,201.1 316.8,204.1 317.0,207.1 317.2,204.1 317.4,210.0 317.6,207.1 317.8,198.2 317.9,204.1 318.1,192.2 318.3,210.0 318.5,204.1 318.7,204.1 318.9,195.2 319.1,207.1 319.3,192.2 319.5,204.1 319.7,207.1 319.8,198.2 320.0,201.1 320.2,198.2 320.4,201.1 320.6,201.1 320.8,192.2 321.0,192.2 321.2,186.3 321.4,201.1 321.6,207.1 321.7,177.4 321.9,183.3 322.1,189.3 322.3,201.1 322.5,183.3 322.7,189.3 322.9,186.3 323.1,177.4 323.3,195.2 323.5,180.4 323.6,195.2 323.8,180.4 324.0,198.2 324.2,171.5 324.4,195.2 324.6,165.6 324.8,186.3 325.0,195.2 325.2,177.4 325.4,174.5 325.5,189.3 325.7,189.3 325.9,195.2 326.1,177.4 326.3,165.6 326.5,192.2 326.7,162.6 326.9,153.7 327.1,189.3 327.3,153.7 327.4,159.6 327.6,171.5 327.8,156.7 328.0,174.5 328.2,159.6 328.4,127.0 328.6,168.5 328.8,165.6 329.0,177.4 329.2,135.9 329.3,132.9 329.5,162.6 329.7,156.7 329.9,156.7 330.1,132.9 330.3,168.5 330.5,141.8 330.7,180.4 330.9,135.9 331.1,153.7 331.2,130.0 331.4,141.8 331.6,156.7 331.8,156.7 332.0,162.6 332.2,118.1 332.4,132.9 332.6,144.8 332.8,171.5 333.0,127.0 333.1,141.8 333.3,144.8 333.5,141.8 333.7,124.1 333.9,135.9 334.1,124.1 334.3,135.9 334.5,127.0 334.7,135.9 334.9,118.1 335.0,138.9 335.2,135.9 335.4,130.0 335.6,135.9 335.8,132.9 336.0,112.2 336.2,115.2 336.4,153.7 336.6,127.0 336.8,127.0 336.9,141.8 337.1,121.1 337.3,132.9 337.5,141.8 337.7,144.8 337.9,138.9 338.1,121.1 338.3,91.4 338.5,132.9 338.7,159.6 338.8,97.4 339.0,127.0 339.2,97.4 339.4,132.9 339.6,100.3 339.8,121.1 340.0,138.9 340.2,124.1 340.4,109.2 340.6,130.0 340.7,88.5 340.9,130.0 341.1,103.3 341.3,124.1 341.5,91.4 341.7,103.3 341.9,147.8 342.1,118.1 342.3,76.6 342.5,118.1 342.6,85.5 342.8,88.5 343.0,124.1 343.2,106.3 343.4,100.3 343.6,124.1 343.8,82.5 344.0,97.4 344.2,106.3 344.4,115.2 344.5,121.1 344.7,118.1 344.9,82.5 345.1,124.1 345.3,91.4 345.5,61.8 345.7,69.2 345.9,115.2 346.1,88.5 346.3,91.4 346.4,115.2 346.6,112.2 346.8,103.3 347.0,79.6 347.2,127.0 347.4,103.3 347.6,112.2 347.8,100.3 348.0,112.2 348.2,130.0 348.3,132.9 348.5,88.5 348.7,124.1 348.9,103.3 349.1,79.6 349.3,106.3 349.5,85.5 349.7,115.2 349.9,94.4 350.1,103.3 350.2,103.3 350.4,132.9 350.6,115.2 350.8,100.3 351.0,124.1 351.2,127.0 351.4,121.1 351.6,138.9 351.8,130.0 352.0,112.2 352.1,132.9 352.3,138.9 352.5,106.3 352.7,103.3 352.9,130.0 353.1,147.8 353.3,112.2 353.5,121.1 353.7,135.9 353.9,141.8 354.0,162.6 354.2,168.5 354.4,103.3 354.6,109.2 354.8,168.5 355.0,118.1 355.2,127.0 355.4,135.9 355.6,132.9 355.8,124.1 355.9,132.9 356.1,159.6 356.3,135.9 356.5,118.1 356.7,174.5 356.9,159.6 357.1,144.8 357.3,153.7 357.5,141.8 357.7,132.9 357.8,141.8 358.0,150.7 358.2,150.7 358.4,159.6 358.6,132.9 358.8,159.6 359.0,156.7 359.2,159.6 359.4,156.7 359.6,127.0 359.7,150.7 359.9,153.7 360.1,127.0 360.3,156.7 360.5,141.8 360.7,153.7 360.9,147.8 361.1,177.4 361.3,150.7 361.5,174.5 361.6,174.5 361.8,153.7 362.0,168.5 362.2,165.6 362.4,153.7 362.6,192.2 362.8,168.5 363.0,180.4 363.2,183.3 363.4,165.6 363.5,183.3 363.7,195.2 363.9,159.6 364.1,171.5 364.3,162.6 364.5,159.6 364.7,168.5 364.9,189.3 365.1,177.4 365.3,171.5 365.4,165.6 365.6,165.6 365.8,174.5 366.0,177.4 366.2,180.4 366.4,180.4 366.6,174.5 366.8,168.5 367.0,189.3 367.2,186.3 367.3,180.4 367.5,171.5 367.7,180.4 367.9,156.7 368.1,177.4 368.3,183.3 368.5,180.4 368.7,171.5 368.9,180.4 369.1,180.4 369.2,162.6 369.4,168.5 369.6,180.4 369.8,189.3 370.0,180.4 370.2,192.2 370.4,183.3 370.6,174.5 370.8,183.3 371.0,162.6 371.2,183.3 371.3,189.3 371.5,192.2 371.7,180.4 371.9,207.1 372.1,189.3 372.3,195.2 372.5,189.3 372.7,198.2 372.9,195.2 373.1,180.4 373.2,192.2 373.4,180.4 373.6,192.2 373.8,192.2 374.0,201.1 374.2,180.4 374.4,183.3 374.6,186.3 374.8,183.3 375.0,186.3 375.1,174.5 375.3,186.3 375.5,189.3 375.7,189.3 375.9,189.3 376.1,204.1 376.3,201.1 376.5,171.5 376.7,180.4 376.9,180.4 377.0,168.5 377.2,183.3 377.4,198.2 377.6,183.3 377.8,195.2 378.0,177.4 378.2,180.4 378.4,180.4 378.6,198.2 378.8,204.1 378.9,186.3 379.1,183.3 379.3,192.2 379.5,186.3 379.7,192.2 379.9,192.2 380.1,186.3 380.3,198.2 380.5,198.2 380.7,183.3 380.8,189.3 381.0,195.2 381.2,195.2 381.4,180.4 381.6,180.4 381.8,201.1 382.0,165.6 382.2,183.3 382.4,189.3 382.6,198.2 382.7,198.2 382.9,183.3 383.1,183.3 383.3,204.1 383.5,198.2 383.7,186.3 383.9,198.2 384.1,174.5 384.3,174.5 384.5,192.2 384.6,213.0 384.8,189.3 385.0,189.3 385.2,195.2 385.4,201.1 385.6,180.4 385.8,192.2 386.0,177.4 386.2,180.4 386.4,195.2 386.5,189.3 386.7,198.2 386.9,195.2 387.1,195.2 387.3,183.3 387.5,150.7 387.7,183.3 387.9,189.3 388.1,183.3 388.3,201.1 388.4,189.3 388.6,189.3 388.8,192.2 389.0,189.3 389.2,189.3 389.4,189.3 389.6,189.3 389.8,201.1 390.0,189.3 390.2,186.3 390.3,171.5 390.5,192.2 390.7,177.4 390.9,180.4 391.1,207.1 391.3,189.3 391.5,177.4 391.7,189.3 391.9,183.3 392.1,180.4 392.2,189.3 392.4,186.3 392.6,192.2 392.8,177.4 393.0,210.0 393.2,195.2 393.4,198.2 393.6,186.3 393.8,189.3 394.0,189.3 394.1,192.2 394.3,180.4 394.5,192.2 394.7,174.5 394.9,189.3 395.1,195.2 395.3,186.3 395.5,183.3 395.7,183.3 395.9,195.2 396.0,186.3 396.2,168.5 396.4,165.6 396.6,192.2 396.8,189.3 397.0,189.3 397.2,195.2 397.4,201.1 397.6,186.3 397.8,168.5 397.9,174.5 398.1,171.5 398.3,171.5 398.5,189.3 398.7,192.2 398.9,198.2 399.1,186.3 399.3,183.3 399.5,177.4 399.7,198.2 399.8,189.3 400.0,192.2 400.2,183.3 400.4,204.1 400.6,180.4 400.8,192.2 401.0,189.3 401.2,192.2 401.4,183.3 401.6,192.2 401.7,186.3 401.9,165.6 402.1,189.3 402.3,177.4 402.5,183.3 402.7,204.1 402.9,201.1 403.1,180.4 403.3,186.3 403.5,189.3 403.6,189.3 403.8,198.2 404.0,171.5 404.2,159.6 404.4,177.4 404.6,192.2 404.8,189.3 405.0,180.4 405.2,192.2 405.4,180.4 405.5,180.4 405.7,162.6 405.9,198.2 406.1,183.3 406.3,201.1 406.5,207.1 406.7,174.5 406.9,201.1 407.1,186.3 407.3,171.5 407.4,180.4 407.6,186.3 407.8,174.5 408.0,186.3 408.2,186.3 408.4,162.6 408.6,183.3 408.8,180.4 409.0,189.3 409.2,186.3 409.3,165.6 409.5,186.3 409.7,174.5 409.9,162.6 410.1,165.6 410.3,192.2 410.5,168.5 410.7,204.1 410.9,174.5 411.1,183.3 411.2,186.3 411.4,180.4 411.6,183.3 411.8,177.4 412.0,180.4 412.2,159.6 412.4,180.4 412.6,183.3 412.8,171.5 413.0,183.3 413.1,180.4 413.3,186.3 413.5,171.5 413.7,168.5 413.9,168.5 414.1,165.6 414.3,165.6 414.5,177.4 414.7,177.4 414.9,189.3 415.0,159.6 415.2,186.3 415.4,180.4 415.6,177.4 415.8,162.6 416.0,162.6 416.2,171.5 416.4,183.3 416.6,162.6 416.8,177.4 416.9,177.4 417.1,147.8 417.3,174.5 417.5,171.5 417.7,168.5 417.9,168.5 418.1,165.6 418.3,165.6 418.5,174.5 418.7,180.4 418.8,171.5 419.0,171.5 419.2,165.6 419.4,198.2 419.6,171.5 419.8,198.2 420.0,150.7 420.2,171.5 420.4,177.4 420.6,183.3 420.7,174.5 420.9,171.5 421.1,174.5 421.3,168.5 421.5,186.3 421.7,168.5 421.9,180.4 422.1,150.7 422.3,189.3 422.5,180.4 422.6,174.5 422.8,174.5 423.0,183.3 423.2,165.6 423.4,183.3 423.6,168.5 423.8,189.3 424.0,186.3 424.2,162.6 424.4,168.5 424.5,162.6 424.7,183.3 424.9,150.7 425.1,177.4 425.3,150.7 425.5,165.6 425.7,201.1 425.9,171.5 426.1,177.4 426.3,174.5 426.4,186.3 426.6,174.5 426.8,174.5 427.0,189.3 427.2,171.5 427.4,186.3 427.6,183.3 427.8,189.3 428.0,171.5 428.2,177.4 428.3,198.2 428.5,189.3 428.7,177.4 428.9,180.4 429.1,183.3 429.3,186.3 429.5,180.4 429.7,177.4 429.9,171.5 430.1,183.3 430.2,171.5 430.4,186.3 430.6,177.4 430.8,159.6 431.0,195.2 431.2,177.4 431.4,174.5 431.6,192.2 431.8,189.3 432.0,171.5 432.1,171.5 432.3,180.4 432.5,186.3 432.7,177.4 432.9,189.3 433.1,168.5 433.3,192.2 433.5,195.2 433.7,201.1 433.9,192.2 434.0,177.4 434.2,189.3 434.4,168.5 434.6,183.3 434.8,183.3 435.0,183.3 435.2,186.3 435.4,195.2 435.6,177.4 435.8,180.4 436.0,180.4 436.1,183.3 436.3,180.4 436.5,189.3 436.7,186.3 436.9,201.1 437.1,201.1 437.3,177.4 437.5,189.3 437.7,189.3 437.9,189.3 438.0,189.3 438.2,207.1 438.4,195.2 438.6,192.2 438.8,198.2 439.0,189.3 439.2,195.2 439.4,195.2 439.6,192.2 439.8,195.2 439.9,207.1 440.1,189.3 440.3,192.2 440.5,195.2 440.7,195.2 440.9,204.1 441.1,192.2 441.3,189.3 441.5,192.2 441.7,198.2 441.8,207.1 442.0,207.1 442.2,195.2 442.4,180.4 442.6,204.1 442.8,192.2 443.0,195.2 443.2,192.2 443.4,192.2 443.6,204.1 443.7,195.2 443.9,186.3 444.1,210.0 444.3,195.2 444.5,195.2 444.7,192.2 444.9,192.2 445.1,204.1 445.3,183.3 445.5,195.2 445.6,192.2 445.8,183.3 446.0,195.2 446.2,192.2 446.4,201.1 446.6,201.1 446.8,192.2 447.0,189.3 447.2,198.2 447.4,201.1 447.5,201.1 447.7,186.3 447.9,201.1 448.1,213.0 448.3,189.3 448.5,198.2 448.7,207.1 448.9,210.0 449.1,207.1 449.3,198.2 449.4,204.1 449.6,213.0 449.8,198.2 450.0,183.3 450.2,204.1 450.4,198.2 450.6,201.1 450.8,201.1 451.0,204.1 451.2,201.1 451.3,195.2 451.5,195.2 451.7,213.0 451.9,213.0 452.1,204.1 452.3,201.1 452.5,201.1 452.7,192.2 452.9,198.2 453.1,210.0 453.2,207.1 453.4,201.1 453.6,201.1 453.8,207.1 454.0,201.1 454.2,198.2 454.4,207.1 454.6,210.0 454.8,201.1 455.0,213.0 455.1,207.1 455.3,198.2 455.5,207.1 455.7,213.0 455.9,204.1 456.1,210.0 456.3,210.0 456.5,207.1 456.7,204.1 456.9,201.1 457.0,210.0 457.2,210.0 457.4,210.0 457.6,192.2 457.8,204.1 458.0,213.0 458.2,207.1 458.4,210.0 458.6,207.1 458.8,204.1 458.9,207.1 459.1,204.1 459.3,198.2 459.5,213.0 459.7,213.0 459.9,207.1 460.1,210.0 460.3,201.1 460.5,213.0 460.7,213.0 460.8,213.0 461.0,213.0 461.2,210.0 461.4,204.1 461.6,210.0 461.8,213.0 462.0,207.1 462.2,210.0 462.4,207.1 462.6,207.1 462.7,207.1 462.9,210.0 463.1,210.0 463.3,213.0 463.5,210.0 463.7,207.1 463.9,207.1 464.1,213.0 464.3,210.0 464.5,207.1 464.6,210.0 464.8,213.0 465.0,213.0 465.2,213.0 465.4,207.1 465.6,207.1 465.8,213.0 466.0,213.0 466.2,213.0 466.4,210.0 466.5,213.0 466.7,204.1 466.9,213.0 467.1,210.0 467.3,210.0 467.5,210.0 467.7,207.1 467.9,210.0 468.1,207.1 468.3,210.0 468.4,210.0 468.6,213.0 468.8,210.0 469.0,213.0 469.2,210.0 469.4,213.0 469.6,210.0 469.8,210.0 470.0,213.0 470.2,213.0 470.3,213.0 470.5,207.1 470.7,210.0 470.9,210.0 471.1,210.0 471.3,207.1 471.5,213.0 471.7,213.0 471.9,213.0 472.1,210.0 472.2,213.0 472.4,210.0 472.6,210.0 472.8,210.0 473.0,207.1 473.2,210.0 473.4,213.0 473.6,213.0 473.8,213.0 474.0,213.0 474.1,213.0 474.3,213.0 474.5,210.0 474.7,213.0 474.9,213.0 475.1,213.0 475.3,213.0 475.5,213.0 475.7,213.0 475.9,210.0 476.0,213.0 476.2,213.0 476.4,213.0 476.6,213.0 476.8,213.0 477.0,213.0 477.2,213.0 477.4,213.0 477.6,213.0 477.8,213.0 477.9,213.0 478.1,213.0 478.3,213.0 478.5,213.0 478.7,213.0 478.9,213.0 479.1,213.0 479.3,213.0 479.5,213.0 479.7,213.0 479.8,213.0 480.0,213.0 480.2,213.0 480.4,213.0 480.6,213.0 480.8,213.0 481.0,213.0 481.2,213.0 481.4,213.0 481.6,213.0 481.7,213.0 481.9,213.0 482.1,213.0 482.3,213.0 482.5,213.0 482.7,213.0 482.9,213.0 483.1,213.0 483.3,213.0 483.5,213.0 483.6,213.0 483.8,213.0 484.0,213.0 484.2,213.0 484.4,213.0 484.6,213.0 484.8,213.0 485.0,213.0 485.2,213.0 485.4,213.0 485.5,213.0 485.7,213.0 485.9,213.0 486.1,213.0 486.3,213.0 486.5,213.0 486.7,213.0 486.9,213.0 487.1,213.0 487.3,213.0 487.4,213.0 487.6,213.0 487.8,213.0 488.0,213.0 488.2,213.0 488.4,213.0 488.6,213.0 488.8,213.0 489.0,213.0 489.2,213.0 489.3,213.0 489.5,213.0 489.7,213.0 489.9,213.0 490.1,213.0 490.3,213.0 490.5,213.0 490.7,213.0 490.9,213.0 491.1,213.0 491.2,213.0 491.4,213.0 491.6,213.0 491.8,213.0 492.0,213.0 492.2,213.0 492.4,213.0 492.6,213.0 492.8,213.0 493.0,213.0 493.1,213.0 493.3,213.0 493.5,213.0 493.7,213.0 493.9,213.0 494.1,213.0 494.3,213.0 494.5,213.0 494.7,213.0 494.9,213.0 495.0,213.0 495.2,213.0 495.4,213.0 495.6,213.0 495.8,213.0 496.0,213.0 496.2,213.0 496.4,213.0 496.6,213.0 496.8,213.0 496.9,213.0 497.1,213.0 497.3,213.0 497.5,213.0 497.7,213.0 497.9,213.0 498.1,213.0 498.3,213.0 498.5,213.0 498.7,213.0 498.8,213.0 499.0,213.0 499.2,213.0 499.4,213.0 499.6,213.0 499.8,213.0" fill="none" stroke="#000" stroke-width="1.25" stroke-linejoin="miter"/>
<path d="M305.4,34.5 V213.9" stroke="#000" stroke-width="2.3" fill="none"/>
<path d="M299.9,213.0 H500.29999999999995" stroke="#000" stroke-width="1.7" fill="none"/>
<path d="M299.9,213.00 H305.4 M302.0,206.92 H305.4 M302.0,200.84 H305.4 M302.0,194.76 H305.4 M302.0,188.68 H305.4 M299.9,182.60 H305.4 M302.0,176.58 H305.4 M302.0,170.56 H305.4 M302.0,164.54 H305.4 M302.0,158.52 H305.4 M299.9,152.50 H305.4 M302.0,146.56 H305.4 M302.0,140.62 H305.4 M302.0,134.68 H305.4 M302.0,128.74 H305.4 M299.9,122.80 H305.4 M302.0,116.88 H305.4 M302.0,110.96 H305.4 M302.0,105.04 H305.4 M302.0,99.12 H305.4 M299.9,93.20 H305.4 M302.0,87.38 H305.4 M302.0,81.56 H305.4 M302.0,75.74 H305.4 M302.0,69.92 H305.4 M299.9,64.10 H305.4 M302.0,58.30 H305.4 M302.0,52.50 H305.4 M302.0,46.70 H305.4 M302.0,40.90 H305.4 M299.9,35.10 H305.4 " stroke="#000" stroke-width="1.5" fill="none"/>
<path d="M305.40,213.0 V218.5 M320.03,213.0 V215.2 M328.59,213.0 V215.2 M334.66,213.0 V215.2 M339.37,213.0 V215.2 M343.22,213.0 V215.2 M346.47,213.0 V215.2 M349.29,213.0 V215.2 M351.78,213.0 V215.2 M354.00,213.0 V218.5 M368.63,213.0 V215.2 M377.19,213.0 V215.2 M383.26,213.0 V215.2 M387.97,213.0 V215.2 M391.82,213.0 V215.2 M395.07,213.0 V215.2 M397.89,213.0 V215.2 M400.38,213.0 V215.2 M402.60,213.0 V218.5 M417.23,213.0 V215.2 M425.79,213.0 V215.2 M431.86,213.0 V215.2 M436.57,213.0 V215.2 M440.42,213.0 V215.2 M443.67,213.0 V215.2 M446.49,213.0 V215.2 M448.98,213.0 V215.2 M451.20,213.0 V218.5 M465.83,213.0 V215.2 M474.39,213.0 V215.2 M480.46,213.0 V215.2 M485.17,213.0 V215.2 M489.02,213.0 V215.2 M492.27,213.0 V215.2 M495.09,213.0 V215.2 M497.58,213.0 V215.2 M499.80,213.0 V218.5 " stroke="#000" stroke-width="1.1" fill="none"/>
<text class="sf" x="292.7" y="222.4" font-size="18.4" text-anchor="end" textLength="8.8" lengthAdjust="spacingAndGlyphs">0</text>
<text class="sf" x="295.7" y="193.1" font-size="18.4" text-anchor="end" textLength="17.5" lengthAdjust="spacingAndGlyphs">10</text>
<text class="sf" x="295.7" y="163.7" font-size="18.4" text-anchor="end" textLength="17.5" lengthAdjust="spacingAndGlyphs">20</text>
<text class="sf" x="295.7" y="134.3" font-size="18.4" text-anchor="end" textLength="17.5" lengthAdjust="spacingAndGlyphs">30</text>
<text class="sf" x="295.7" y="104.9" font-size="18.4" text-anchor="end" textLength="17.5" lengthAdjust="spacingAndGlyphs">40</text>
<text class="sf" x="295.7" y="75.6" font-size="18.4" text-anchor="end" textLength="17.5" lengthAdjust="spacingAndGlyphs">50</text>
<text class="sf" x="295.7" y="46.2" font-size="18.4" text-anchor="end" textLength="17.5" lengthAdjust="spacingAndGlyphs">60</text>
<text class="sf" x="301.0" y="241.70000000000002" font-size="18.5" textLength="16.8" lengthAdjust="spacingAndGlyphs">10</text>
<text class="sf" x="318.2" y="235.7" font-size="14.5" textLength="5.5" lengthAdjust="spacingAndGlyphs">0</text>
<text class="sf" x="349.6" y="241.70000000000002" font-size="18.5" textLength="16.8" lengthAdjust="spacingAndGlyphs">10</text>
<text class="sf" x="366.8" y="235.7" font-size="14.5" textLength="5.5" lengthAdjust="spacingAndGlyphs">1</text>
<text class="sf" x="398.2" y="241.70000000000002" font-size="18.5" textLength="16.8" lengthAdjust="spacingAndGlyphs">10</text>
<text class="sf" x="415.4" y="235.7" font-size="14.5" textLength="5.5" lengthAdjust="spacingAndGlyphs">2</text>
<text class="sf" x="446.8" y="241.70000000000002" font-size="18.5" textLength="16.8" lengthAdjust="spacingAndGlyphs">10</text>
<text class="sf" x="464.0" y="235.7" font-size="14.5" textLength="5.5" lengthAdjust="spacingAndGlyphs">3</text>
<text class="sf" x="495.4" y="241.70000000000002" font-size="18.5" textLength="16.8" lengthAdjust="spacingAndGlyphs">10</text>
<text class="sf" x="512.6" y="235.7" font-size="14.5" textLength="5.5" lengthAdjust="spacingAndGlyphs">4</text>
<text class="ss" x="256.8" y="21.6" font-size="29.5" stroke="#000" stroke-width="0.6">B</text>
<text class="sf" x="348.6" y="38.2" font-size="19.5" textLength="71" lengthAdjust="spacingAndGlyphs">GM-CSF</text>
<text class="sf" transform="translate(270.2 161.3) rotate(-90)" font-size="18" textLength="54" lengthAdjust="spacingAndGlyphs">Counts</text>
<text class="sf" x="346.5" y="265.2" font-size="17.7" textLength="133.5" lengthAdjust="spacingAndGlyphs">Annexin-V-FITC</text>
<!-- panel C -->
<path d="M49.9,453.0 50.6,455.4 51.4,458.5 52.1,461.2 52.9,463.5 53.6,465.6 54.4,467.5 55.1,468.7 55.9,469.3 56.6,469.7 57.3,470.1 58.1,470.5 58.8,470.9 59.6,471.1 60.3,471.2 61.1,471.2 61.8,471.2 62.6,471.2 63.3,471.2 64.0,471.2 64.8,471.2 65.5,471.2 66.3,471.2 67.0,471.2 67.8,471.2 68.5,471.2 69.3,471.2 70.0,471.2 70.7,471.2 71.5,471.2 72.2,471.2 73.0,471.2 73.7,471.2 74.5,471.2 75.2,471.2 76.0,471.2 76.7,471.2 77.4,471.2 78.2,471.2 78.9,471.2 79.7,471.2 80.4,471.2 81.2,471.2 81.9,471.2 82.7,471.1 83.4,470.9 84.1,470.8 84.9,470.7 85.6,470.5 86.4,470.4 87.1,470.3 87.9,470.2 88.6,470.0 89.4,469.9 90.1,469.8 90.8,469.7 91.6,469.5 92.3,469.4 93.1,469.0 93.8,468.5 94.6,467.9 95.3,467.4 96.1,466.8 96.8,466.3 97.5,465.7 98.3,465.1 99.0,464.6 99.8,464.1 100.5,463.6 101.3,463.1 102.0,462.6 102.8,462.1 103.5,461.7 104.2,461.2 105.0,460.7 105.7,460.2 106.5,459.8 107.2,459.3 108.0,458.8 108.7,458.4 109.5,457.9 110.2,457.4 110.9,456.7 111.7,455.6 112.4,454.4 113.2,453.2 113.9,451.9 114.7,450.7 115.4,449.5 116.2,448.3 116.9,447.1 117.6,445.8 118.4,444.5 119.1,443.0 119.9,441.6 120.6,440.1 121.4,438.7 122.1,437.3 122.9,435.8 123.6,434.4 124.3,432.9 125.1,431.6 125.8,430.7 126.6,430.4 127.3,430.3 128.1,430.2 128.8,430.1 129.6,430.0 130.3,429.9 131.0,429.8 131.8,429.6 132.5,429.5 133.3,429.4 134.0,429.3 134.8,429.2 135.5,429.1 136.3,428.9 137.0,428.7 137.7,428.4 138.5,428.1 139.2,427.7 140.0,427.4 140.7,427.1 141.5,426.7 142.2,426.4 143.0,426.1 143.7,425.8 144.4,425.4 145.2,425.1 145.9,424.8 146.7,424.4 147.4,423.7 148.2,422.3 148.9,420.5 149.7,418.7 150.4,416.8 151.1,415.0 151.9,413.1 152.6,411.3 153.4,409.4 154.1,407.6 154.9,405.7 155.6,403.7 156.4,401.7 157.1,399.7 157.8,397.7 158.6,395.7 159.3,393.7 160.1,391.7 160.8,389.7 161.6,387.5 162.3,384.7 163.1,381.5 163.8,378.2 164.5,374.9 165.3,371.6 166.0,368.3 166.8,365.0 167.5,361.4 168.3,357.3 169.0,353.0 169.8,348.7 170.5,344.5 171.2,340.8 172.0,338.1 172.7,336.1 173.5,334.7 174.2,334.6 175.0,335.4 175.7,336.7 176.5,339.2 177.2,342.6 178.0,346.9 178.7,352.1 179.4,357.8 180.2,363.5 180.9,369.3 181.7,375.0 182.4,380.8 183.2,386.6 183.9,392.7 184.7,398.9 185.4,405.3 186.1,411.6 186.9,418.0 187.6,424.5 188.4,430.7 189.1,436.1 189.9,440.3 190.6,444.1 191.4,447.8 192.1,451.6 192.8,455.5 193.6,459.2 194.3,462.0 195.1,463.6 195.8,464.7 196.6,465.8 197.3,466.9 198.1,468.1 198.8,469.2 199.5,470.4 200.3,471.5 201.0,472.6 201.8,473.3 202.5,473.8 L202.5,477.4 201.8,477.2 201.0,476.8 200.3,476.2 199.5,475.5 198.8,474.8 198.1,474.1 197.3,473.4 196.6,472.6 195.8,471.9 195.1,471.1 194.3,469.9 193.6,467.9 192.8,465.1 192.1,462.1 191.4,459.1 190.6,456.1 189.9,453.1 189.1,449.6 188.4,445.2 187.6,439.9 186.9,434.5 186.1,429.0 185.4,423.5 184.7,417.9 183.9,412.5 183.2,407.2 182.4,402.0 181.7,396.9 180.9,391.8 180.2,386.7 179.4,381.5 178.7,376.4 178.0,371.7 177.2,367.9 176.5,364.8 175.7,362.6 175.0,361.4 174.2,360.6 173.5,360.8 172.7,362.0 172.0,363.9 171.2,366.2 170.5,369.6 169.8,373.4 169.0,377.3 168.3,381.1 167.5,384.8 166.8,388.0 166.0,390.9 165.3,393.9 164.5,396.8 163.8,399.7 163.1,402.6 162.3,405.5 161.6,408.0 160.8,409.9 160.1,411.7 159.3,413.4 158.6,415.2 157.8,416.9 157.1,418.6 156.4,420.4 155.6,422.1 154.9,423.8 154.1,425.5 153.4,427.1 152.6,428.7 151.9,430.2 151.1,431.8 150.4,433.4 149.7,435.0 148.9,436.6 148.2,438.1 147.4,439.3 146.7,439.9 145.9,440.2 145.2,440.4 144.4,440.7 143.7,441.0 143.0,441.3 142.2,441.6 141.5,441.8 140.7,442.1 140.0,442.4 139.2,442.7 138.5,442.9 137.7,443.2 137.0,443.5 136.3,443.7 135.5,443.8 134.8,443.9 134.0,444.0 133.3,444.1 132.5,444.2 131.8,444.3 131.0,444.4 130.3,444.5 129.6,444.5 128.8,444.6 128.1,444.7 127.3,444.8 126.6,444.9 125.8,445.2 125.1,445.9 124.3,447.0 123.6,448.2 122.9,449.4 122.1,450.6 121.4,451.8 120.6,453.0 119.9,454.1 119.1,455.3 118.4,456.5 117.6,457.5 116.9,458.5 116.2,459.5 115.4,460.5 114.7,461.4 113.9,462.4 113.2,463.3 112.4,464.3 111.7,465.2 110.9,466.0 110.2,466.6 109.5,466.9 108.7,467.3 108.0,467.6 107.2,468.0 106.5,468.3 105.7,468.7 105.0,469.0 104.2,469.4 103.5,469.7 102.8,470.0 102.0,470.4 101.3,470.7 100.5,471.1 99.8,471.4 99.0,471.8 98.3,472.2 97.5,472.5 96.8,472.9 96.1,473.3 95.3,473.7 94.6,474.0 93.8,474.4 93.1,474.7 92.3,474.9 91.6,475.0 90.8,475.1 90.1,475.2 89.4,475.3 88.6,475.3 87.9,475.4 87.1,475.5 86.4,475.6 85.6,475.6 84.9,475.7 84.1,475.8 83.4,475.9 82.7,475.9 81.9,476.0 81.2,476.0 80.4,476.0 79.7,476.0 78.9,476.0 78.2,476.0 77.4,476.0 76.7,476.0 76.0,476.0 75.2,476.0 74.5,476.0 73.7,476.0 73.0,476.0 72.2,476.0 71.5,476.0 70.7,476.0 70.0,476.0 69.3,476.0 68.5,476.0 67.8,476.0 67.0,476.0 66.3,476.0 65.5,476.0 64.8,476.0 64.0,476.0 63.3,476.0 62.6,476.0 61.8,476.0 61.1,476.0 60.3,476.0 59.6,476.0 58.8,475.8 58.1,475.6 57.3,475.4 56.6,475.1 55.9,474.9 55.1,474.5 54.4,473.7 53.6,472.5 52.9,471.0 52.1,469.4 51.4,467.4 50.6,465.0 49.9,463.2 Z" fill="#000" stroke="none"/>
<path d="M49.9,460.2 50.1,457.2 50.3,454.2 50.5,466.2 50.6,451.2 50.8,454.2 51.0,460.2 51.2,466.2 51.4,457.2 51.6,469.1 51.8,460.2 51.9,460.2 52.1,466.2 52.3,463.2 52.5,466.2 52.7,466.2 52.9,457.2 53.1,457.2 53.3,463.2 53.4,466.2 53.6,469.1 53.8,472.1 54.0,472.1 54.2,478.1 54.4,475.1 54.6,469.1 54.7,466.2 54.9,478.1 55.1,472.1 55.3,466.2 55.5,475.1 55.7,475.1 55.9,469.1 56.0,478.1 56.2,475.1 56.4,463.2 56.6,475.1 56.8,466.2 57.0,469.1 57.2,472.1 57.3,475.1 57.5,472.1 57.7,475.1 57.9,478.1 58.1,466.2 58.3,475.1 58.5,469.1 58.6,472.1 58.8,469.1 59.0,478.1 59.2,478.1 59.4,475.1 59.6,472.1 59.8,475.1 60.0,478.1 60.1,466.2 60.3,475.1 60.5,469.1 60.7,475.1 60.9,466.2 61.1,475.1 61.3,472.1 61.4,472.1 61.6,472.1 61.8,475.1 62.0,469.1 62.2,475.1 62.4,475.1 62.6,478.1 62.7,469.1 62.9,472.1 63.1,478.1 63.3,475.1 63.5,478.1 63.7,472.1 63.9,466.2 64.0,478.1 64.2,478.1 64.4,466.2 64.6,475.1 64.8,469.1 65.0,478.1 65.2,478.1 65.3,472.1 65.5,469.1 65.7,469.1 65.9,472.1 66.1,469.1 66.3,475.1 66.5,475.1 66.7,466.2 66.8,475.1 67.0,475.1 67.2,475.1 67.4,475.1 67.6,475.1 67.8,475.1 68.0,472.1 68.1,469.1 68.3,478.1 68.5,472.1 68.7,472.1 68.9,472.1 69.1,466.2 69.3,475.1 69.4,472.1 69.6,472.1 69.8,475.1 70.0,475.1 70.2,472.1 70.4,469.1 70.6,472.1 70.7,466.2 70.9,475.1 71.1,475.1 71.3,478.1 71.5,475.1 71.7,472.1 71.9,466.2 72.0,478.1 72.2,472.1 72.4,475.1 72.6,469.1 72.8,472.1 73.0,475.1 73.2,469.1 73.4,478.1 73.5,475.1 73.7,466.2 73.9,469.1 74.1,475.1 74.3,472.1 74.5,472.1 74.7,472.1 74.8,472.1 75.0,475.1 75.2,478.1 75.4,469.1 75.6,469.1 75.8,478.1 76.0,478.1 76.1,478.1 76.3,478.1 76.5,475.1 76.7,475.1 76.9,475.1 77.1,472.1 77.3,478.1 77.4,478.1 77.6,475.1 77.8,478.1 78.0,478.1 78.2,469.1 78.4,478.1 78.6,475.1 78.7,472.1 78.9,472.1 79.1,475.1 79.3,475.1 79.5,478.1 79.7,478.1 79.9,475.1 80.1,472.1 80.2,466.2 80.4,472.1 80.6,469.1 80.8,472.1 81.0,475.1 81.2,478.1 81.4,472.1 81.5,472.1 81.7,469.1 81.9,469.1 82.1,472.1 82.3,478.1 82.5,472.1 82.7,472.1 82.8,478.1 83.0,469.1 83.2,469.1 83.4,475.1 83.6,475.1 83.8,475.1 84.0,472.1 84.1,472.1 84.3,478.1 84.5,475.1 84.7,472.1 84.9,472.1 85.1,475.1 85.3,472.1 85.4,475.1 85.6,472.1 85.8,475.1 86.0,478.1 86.2,463.2 86.4,469.1 86.6,475.1 86.8,472.1 86.9,472.1 87.1,478.1 87.3,475.1 87.5,475.1 87.7,478.1 87.9,469.1 88.1,475.1 88.2,478.1 88.4,466.2 88.6,469.1 88.8,469.1 89.0,472.1 89.2,478.1 89.4,469.1 89.5,478.1 89.7,472.1 89.9,469.1 90.1,469.1 90.3,469.1 90.5,475.1 90.7,478.1 90.8,475.1 91.0,475.1 91.2,469.1 91.4,478.1 91.6,478.1 91.8,466.2 92.0,472.1 92.1,478.1 92.3,472.1 92.5,466.2 92.7,469.1 92.9,475.1 93.1,472.1 93.3,475.1 93.5,472.1 93.6,472.1 93.8,466.2 94.0,472.1 94.2,469.1 94.4,478.1 94.6,469.1 94.8,472.1 94.9,469.1 95.1,466.2 95.3,466.2 95.5,466.2 95.7,475.1 95.9,475.1 96.1,472.1 96.2,472.1 96.4,469.1 96.6,466.2 96.8,466.2 97.0,475.1 97.2,475.1 97.4,472.1 97.5,463.2 97.7,451.2 97.9,469.1 98.1,475.1 98.3,472.1 98.5,463.2 98.7,466.2 98.8,469.1 99.0,472.1 99.2,466.2 99.4,469.1 99.6,466.2 99.8,472.1 100.0,463.2 100.2,466.2 100.3,469.1 100.5,466.2 100.7,466.2 100.9,469.1 101.1,469.1 101.3,466.2 101.5,469.1 101.6,472.1 101.8,472.1 102.0,451.2 102.2,466.2 102.4,469.1 102.6,463.2 102.8,457.2 102.9,478.1 103.1,463.2 103.3,466.2 103.5,469.1 103.7,469.1 103.9,469.1 104.1,457.2 104.2,466.2 104.4,451.2 104.6,466.2 104.8,469.1 105.0,463.2 105.2,466.2 105.4,466.2 105.5,460.2 105.7,460.2 105.9,472.1 106.1,478.1 106.3,469.1 106.5,472.1 106.7,466.2 106.9,469.1 107.0,469.1 107.2,463.2 107.4,454.2 107.6,466.2 107.8,463.2 108.0,457.2 108.2,478.1 108.3,460.2 108.5,475.1 108.7,469.1 108.9,463.2 109.1,466.2 109.3,466.2 109.5,448.2 109.6,466.2 109.8,457.2 110.0,457.2 110.2,469.1 110.4,457.2 110.6,457.2 110.8,454.2 110.9,442.3 111.1,457.2 111.3,463.2 111.5,475.1 111.7,460.2 111.9,463.2 112.1,466.2 112.2,460.2 112.4,472.1 112.6,466.2 112.8,454.2 113.0,469.1 113.2,463.2 113.4,469.1 113.6,439.3 113.7,463.2 113.9,454.2 114.1,466.2 114.3,436.3 114.5,451.2 114.7,466.2 114.9,451.2 115.0,448.2 115.2,463.2 115.4,454.2 115.6,454.2 115.8,442.3 116.0,442.3 116.2,457.2 116.3,451.2 116.5,448.2 116.7,460.2 116.9,442.3 117.1,445.3 117.3,442.3 117.5,463.2 117.6,457.2 117.8,460.2 118.0,439.3 118.2,457.2 118.4,448.2 118.6,436.3 118.8,436.3 119.0,466.2 119.1,454.2 119.3,436.3 119.5,451.2 119.7,448.2 119.9,433.3 120.1,436.3 120.3,433.3 120.4,445.3 120.6,430.3 120.8,457.2 121.0,439.3 121.2,436.3 121.4,442.3 121.6,460.2 121.7,445.3 121.9,448.2 122.1,433.3 122.3,427.4 122.5,451.2 122.7,469.1 122.9,427.4 123.0,427.4 123.2,442.3 123.4,439.3 123.6,433.3 123.8,454.2 124.0,457.2 124.2,445.3 124.3,457.2 124.5,430.3 124.7,445.3 124.9,454.2 125.1,400.5 125.3,454.2 125.5,436.3 125.7,436.3 125.8,439.3 126.0,451.2 126.2,436.3 126.4,442.3 126.6,448.2 126.8,433.3 127.0,451.2 127.1,451.2 127.3,415.4 127.5,445.3 127.7,421.4 127.9,454.2 128.1,421.4 128.3,436.3 128.4,445.3 128.6,451.2 128.8,442.3 129.0,448.2 129.2,430.3 129.4,424.4 129.6,439.3 129.7,430.3 129.9,427.4 130.1,436.3 130.3,427.4 130.5,424.4 130.7,427.4 130.9,436.3 131.0,433.3 131.2,451.2 131.4,439.3 131.6,412.4 131.8,445.3 132.0,424.4 132.2,436.3 132.4,424.4 132.5,430.3 132.7,439.3 132.9,439.3 133.1,451.2 133.3,424.4 133.5,436.3 133.7,433.3 133.8,442.3 134.0,445.3 134.2,454.2 134.4,457.2 134.6,439.3 134.8,448.2 135.0,412.4 135.1,418.4 135.3,424.4 135.5,433.3 135.7,445.3 135.9,445.3 136.1,424.4 136.3,430.3 136.4,463.2 136.6,427.4 136.8,421.4 137.0,424.4 137.2,421.4 137.4,418.4 137.6,433.3 137.7,460.2 137.9,427.4 138.1,424.4 138.3,412.4 138.5,454.2 138.7,442.3 138.9,430.3 139.1,433.3 139.2,451.2 139.4,424.4 139.6,439.3 139.8,427.4 140.0,427.4 140.2,424.4 140.4,436.3 140.5,442.3 140.7,430.3 140.9,424.4 141.1,424.4 141.3,433.3 141.5,427.4 141.7,424.4 141.8,451.2 142.0,445.3 142.2,448.2 142.4,427.4 142.6,433.3 142.8,421.4 143.0,448.2 143.1,424.4 143.3,424.4 143.5,433.3 143.7,427.4 143.9,442.3 144.1,439.3 144.3,418.4 144.4,448.2 144.6,433.3 144.8,424.4 145.0,430.3 145.2,439.3 145.4,454.2 145.6,442.3 145.8,433.3 145.9,436.3 146.1,421.4 146.3,439.3 146.5,445.3 146.7,430.3 146.9,430.3 147.1,430.3 147.2,412.4 147.4,445.3 147.6,436.3 147.8,454.2 148.0,427.4 148.2,451.2 148.4,421.4 148.5,418.4 148.7,439.3 148.9,430.3 149.1,433.3 149.3,442.3 149.5,433.3 149.7,451.2 149.8,433.3 150.0,391.5 150.2,421.4 150.4,415.4 150.6,424.4 150.8,427.4 151.0,421.4 151.1,424.4 151.3,424.4 151.5,427.4 151.7,403.5 151.9,418.4 152.1,409.4 152.3,436.3 152.5,400.5 152.6,415.4 152.8,409.4 153.0,409.4 153.2,424.4 153.4,418.4 153.6,436.3 153.8,397.5 153.9,421.4 154.1,415.4 154.3,427.4 154.5,409.4 154.7,391.5 154.9,418.4 155.1,421.4 155.2,439.3 155.4,412.4 155.6,418.4 155.8,406.5 156.0,421.4 156.2,418.4 156.4,379.6 156.5,436.3 156.7,412.4 156.9,409.4 157.1,421.4 157.3,400.5 157.5,421.4 157.7,418.4 157.8,403.5 158.0,403.5 158.2,418.4 158.4,433.3 158.6,379.6 158.8,406.5 159.0,406.5 159.2,415.4 159.3,397.5 159.5,427.4 159.7,400.5 159.9,403.5 160.1,391.5 160.3,379.6 160.5,397.5 160.6,412.4 160.8,424.4 161.0,400.5 161.2,394.5 161.4,379.6 161.6,418.4 161.8,394.5 161.9,418.4 162.1,394.5 162.3,403.5 162.5,391.5 162.7,418.4 162.9,388.6 163.1,367.7 163.2,391.5 163.4,376.6 163.6,385.6 163.8,388.6 164.0,385.6 164.2,388.6 164.4,436.3 164.5,376.6 164.7,367.7 164.9,358.7 165.1,406.5 165.3,415.4 165.5,403.5 165.7,367.7 165.9,367.7 166.0,385.6 166.2,400.5 166.4,421.4 166.6,397.5 166.8,370.6 167.0,340.8 167.2,388.6 167.3,385.6 167.5,334.8 167.7,364.7 167.9,382.6 168.1,391.5 168.3,313.9 168.5,361.7 168.6,355.7 168.8,379.6 169.0,379.6 169.2,376.6 169.4,346.8 169.6,346.8 169.8,358.7 169.9,367.7 170.1,373.6 170.3,331.8 170.5,349.7 170.7,343.8 170.9,370.6 171.1,346.8 171.2,331.8 171.4,352.7 171.6,367.7 171.8,349.7 172.0,358.7 172.2,337.8 172.4,349.7 172.6,313.9 172.7,328.9 172.9,358.7 173.1,349.7 173.3,367.7 173.5,337.8 173.7,376.6 173.9,340.8 174.0,308.0 174.2,337.8 174.4,299.0 174.6,340.8 174.8,385.6 175.0,346.8 175.2,325.9 175.3,322.9 175.5,349.7 175.7,349.7 175.9,343.8 176.1,382.6 176.3,346.8 176.5,376.6 176.6,346.8 176.8,340.8 177.0,358.7 177.2,367.7 177.4,313.9 177.6,331.8 177.8,331.8 178.0,328.9 178.1,373.6 178.3,328.9 178.5,364.7 178.7,361.7 178.9,418.4 179.1,349.7 179.3,349.7 179.4,346.8 179.6,367.7 179.8,385.6 180.0,412.4 180.2,367.7 180.4,349.7 180.6,373.6 180.7,382.6 180.9,394.5 181.1,343.8 181.3,373.6 181.5,406.5 181.7,391.5 181.9,385.6 182.0,382.6 182.2,406.5 182.4,403.5 182.6,394.5 182.8,379.6 183.0,394.5 183.2,376.6 183.3,406.5 183.5,397.5 183.7,409.4 183.9,379.6 184.1,427.4 184.3,397.5 184.5,391.5 184.7,403.5 184.8,412.4 185.0,403.5 185.2,403.5 185.4,376.6 185.6,394.5 185.8,427.4 186.0,385.6 186.1,427.4 186.3,430.3 186.5,433.3 186.7,424.4 186.9,418.4 187.1,415.4 187.3,448.2 187.4,433.3 187.6,427.4 187.8,445.3 188.0,433.3 188.2,448.2 188.4,436.3 188.6,445.3 188.7,433.3 188.9,439.3 189.1,406.5 189.3,454.2 189.5,457.2 189.7,454.2 189.9,460.2 190.0,457.2 190.2,448.2 190.4,454.2 190.6,448.2 190.8,472.1 191.0,451.2 191.2,451.2 191.4,448.2 191.5,448.2 191.7,457.2 191.9,469.1 192.1,469.1 192.3,460.2 192.5,457.2 192.7,454.2 192.8,457.2 193.0,466.2 193.2,457.2 193.4,463.2 193.6,460.2 193.8,463.2 194.0,460.2 194.1,460.2 194.3,460.2 194.5,466.2 194.7,466.2 194.9,466.2 195.1,469.1 195.3,469.1 195.4,475.1 195.6,457.2 195.8,472.1 196.0,469.1 196.2,475.1 196.4,478.1 196.6,469.1 196.7,466.2 196.9,460.2 197.1,463.2 197.3,475.1 197.5,472.1 197.7,478.1 197.9,475.1 198.1,469.1 198.2,472.1 198.4,466.2 198.6,475.1 198.8,469.1 199.0,469.1 199.2,472.1 199.4,472.1 199.5,475.1 199.7,472.1 199.9,475.1 200.1,475.1 200.3,478.1 200.5,478.1 200.7,472.1 200.8,478.1 201.0,478.1 201.2,475.1 201.4,475.1 201.6,472.1 201.8,472.1 202.0,478.1 202.1,472.1 202.3,472.1 202.5,469.1 202.7,475.1 202.9,472.1 203.1,475.1 203.3,475.1 203.4,475.1 203.6,472.1 203.8,472.1 204.0,478.1 204.2,469.1 204.4,475.1 204.6,475.1 204.8,472.1 204.9,478.1 205.1,475.1 205.3,478.1 205.5,478.1 205.7,475.1 205.9,478.1 206.1,475.1 206.2,478.1 206.4,475.1 206.6,478.1 206.8,475.1 207.0,478.1 207.2,478.1 207.4,478.1 207.5,478.1 207.7,478.1 207.9,478.1 208.1,478.1 208.3,475.1 208.5,478.1 208.7,475.1 208.8,478.1 209.0,478.1 209.2,478.1 209.4,478.1 209.6,478.1 209.8,478.1 210.0,478.1 210.1,475.1 210.3,478.1 210.5,478.1 210.7,478.1 210.9,478.1 211.1,478.1 211.3,478.1 211.5,478.1 211.6,478.1 211.8,478.1 212.0,478.1 212.2,478.1 212.4,478.1 212.6,478.1 212.8,478.1 212.9,478.1 213.1,478.1 213.3,478.1 213.5,478.1 213.7,478.1 213.9,478.1 214.1,478.1 214.2,478.1 214.4,478.1 214.6,478.1 214.8,478.1 215.0,478.1 215.2,478.1 215.4,478.1 215.5,478.1 215.7,478.1 215.9,478.1 216.1,478.1 216.3,478.1 216.5,478.1 216.7,478.1 216.8,478.1 217.0,478.1 217.2,478.1 217.4,478.1 217.6,478.1 217.8,478.1 218.0,478.1 218.2,478.1 218.3,478.1 218.5,478.1 218.7,478.1 218.9,478.1 219.1,478.1 219.3,478.1 219.5,478.1 219.6,478.1 219.8,478.1 220.0,478.1 220.2,478.1 220.4,478.1 220.6,478.1 220.8,478.1 220.9,478.1 221.1,478.1 221.3,478.1 221.5,478.1 221.7,478.1 221.9,478.1 222.1,478.1 222.2,478.1 222.4,478.1 222.6,478.1 222.8,478.1 223.0,478.1 223.2,478.1 223.4,478.1 223.5,478.1 223.7,478.1 223.9,478.1 224.1,478.1 224.3,478.1 224.5,478.1 224.7,478.1 224.9,478.1 225.0,478.1 225.2,478.1 225.4,478.1 225.6,478.1 225.8,478.1 226.0,478.1 226.2,478.1 226.3,478.1 226.5,478.1 226.7,478.1 226.9,478.1 227.1,478.1 227.3,478.1 227.5,478.1 227.6,478.1 227.8,478.1 228.0,478.1 228.2,478.1 228.4,478.1 228.6,478.1 228.8,478.1 228.9,478.1 229.1,478.1 229.3,478.1 229.5,478.1 229.7,478.1 229.9,478.1 230.1,478.1 230.2,478.1 230.4,478.1 230.6,478.1 230.8,478.1 231.0,478.1 231.2,478.1 231.4,478.1 231.6,478.1 231.7,478.1 231.9,478.1 232.1,478.1 232.3,478.1 232.5,478.1 232.7,478.1 232.9,478.1 233.0,478.1 233.2,478.1 233.4,478.1 233.6,478.1 233.8,478.1 234.0,478.1 234.2,478.1 234.3,478.1 234.5,478.1 234.7,478.1 234.9,478.1 235.1,478.1 235.3,478.1 235.5,478.1 235.6,478.1 235.8,478.1 236.0,478.1 236.2,478.1 236.4,478.1 236.6,478.1 236.8,478.1 236.9,478.1 237.1,478.1 237.3,478.1 237.5,478.1 237.7,478.1 237.9,478.1 238.1,478.1 238.3,478.1 238.4,478.1 238.6,478.1 238.8,478.1 239.0,478.1 239.2,478.1 239.4,478.1 239.6,478.1 239.7,478.1 239.9,478.1 240.1,478.1 240.3,478.1" fill="none" stroke="#000" stroke-width="1.25" stroke-linejoin="miter"/>
<path d="M49.9,298.5 V479.0" stroke="#000" stroke-width="2.3" fill="none"/>
<path d="M44.4,478.1 H240.8" stroke="#000" stroke-width="1.7" fill="none"/>
<path d="M44.4,478.10 H49.9 M46.5,471.95 H49.9 M46.5,465.80 H49.9 M46.5,459.65 H49.9 M46.5,453.50 H49.9 M44.4,447.35 H49.9 M46.5,441.26 H49.9 M46.5,435.17 H49.9 M46.5,429.08 H49.9 M46.5,422.99 H49.9 M44.4,416.90 H49.9 M46.5,410.98 H49.9 M46.5,405.06 H49.9 M46.5,399.14 H49.9 M46.5,393.22 H49.9 M44.4,387.30 H49.9 M46.5,381.44 H49.9 M46.5,375.58 H49.9 M46.5,369.72 H49.9 M46.5,363.86 H49.9 M44.4,358.00 H49.9 M46.5,352.10 H49.9 M46.5,346.20 H49.9 M46.5,340.30 H49.9 M46.5,334.40 H49.9 M44.4,328.50 H49.9 M46.5,322.60 H49.9 M46.5,316.70 H49.9 M46.5,310.80 H49.9 M46.5,304.90 H49.9 M44.4,299.00 H49.9 " stroke="#000" stroke-width="1.5" fill="none"/>
<path d="M49.90,478.1 V483.6 M64.23,478.1 V480.3 M72.61,478.1 V480.3 M78.56,478.1 V480.3 M83.17,478.1 V480.3 M86.94,478.1 V480.3 M90.13,478.1 V480.3 M92.89,478.1 V480.3 M95.32,478.1 V480.3 M97.50,478.1 V483.6 M111.83,478.1 V480.3 M120.21,478.1 V480.3 M126.16,478.1 V480.3 M130.77,478.1 V480.3 M134.54,478.1 V480.3 M137.73,478.1 V480.3 M140.49,478.1 V480.3 M142.92,478.1 V480.3 M145.10,478.1 V483.6 M159.43,478.1 V480.3 M167.81,478.1 V480.3 M173.76,478.1 V480.3 M178.37,478.1 V480.3 M182.14,478.1 V480.3 M185.33,478.1 V480.3 M188.09,478.1 V480.3 M190.52,478.1 V480.3 M192.70,478.1 V483.6 M207.03,478.1 V480.3 M215.41,478.1 V480.3 M221.36,478.1 V480.3 M225.97,478.1 V480.3 M229.74,478.1 V480.3 M232.93,478.1 V480.3 M235.69,478.1 V480.3 M238.12,478.1 V480.3 M240.30,478.1 V483.6 " stroke="#000" stroke-width="1.1" fill="none"/>
<text class="sf" x="38.2" y="487.5" font-size="18.4" text-anchor="end" textLength="8.8" lengthAdjust="spacingAndGlyphs">0</text>
<text class="sf" x="41.2" y="458.1" font-size="18.4" text-anchor="end" textLength="17.5" lengthAdjust="spacingAndGlyphs">10</text>
<text class="sf" x="41.2" y="428.6" font-size="18.4" text-anchor="end" textLength="17.5" lengthAdjust="spacingAndGlyphs">20</text>
<text class="sf" x="41.2" y="399.1" font-size="18.4" text-anchor="end" textLength="17.5" lengthAdjust="spacingAndGlyphs">30</text>
<text class="sf" x="41.2" y="369.7" font-size="18.4" text-anchor="end" textLength="17.5" lengthAdjust="spacingAndGlyphs">40</text>
<text class="sf" x="41.2" y="340.2" font-size="18.4" text-anchor="end" textLength="17.5" lengthAdjust="spacingAndGlyphs">50</text>
<text class="sf" x="41.2" y="310.8" font-size="18.4" text-anchor="end" textLength="17.5" lengthAdjust="spacingAndGlyphs">60</text>
<text class="sf" x="45.8" y="506.90000000000003" font-size="18.5" textLength="16.8" lengthAdjust="spacingAndGlyphs">10</text>
<text class="sf" x="63.0" y="500.9" font-size="14.5" textLength="5.5" lengthAdjust="spacingAndGlyphs">0</text>
<text class="sf" x="93.4" y="506.90000000000003" font-size="18.5" textLength="16.8" lengthAdjust="spacingAndGlyphs">10</text>
<text class="sf" x="110.6" y="500.9" font-size="14.5" textLength="5.5" lengthAdjust="spacingAndGlyphs">1</text>
<text class="sf" x="141.0" y="506.90000000000003" font-size="18.5" textLength="16.8" lengthAdjust="spacingAndGlyphs">10</text>
<text class="sf" x="158.2" y="500.9" font-size="14.5" textLength="5.5" lengthAdjust="spacingAndGlyphs">2</text>
<text class="sf" x="188.6" y="506.90000000000003" font-size="18.5" textLength="16.8" lengthAdjust="spacingAndGlyphs">10</text>
<text class="sf" x="205.8" y="500.9" font-size="14.5" textLength="5.5" lengthAdjust="spacingAndGlyphs">3</text>
<text class="sf" x="236.2" y="506.90000000000003" font-size="18.5" textLength="16.8" lengthAdjust="spacingAndGlyphs">10</text>
<text class="sf" x="253.4" y="500.9" font-size="14.5" textLength="5.5" lengthAdjust="spacingAndGlyphs">4</text>
<text class="ss" x="0.6" y="287.9" font-size="29.5" textLength="18.6" lengthAdjust="spacingAndGlyphs" stroke="#000" stroke-width="0.6">C</text>
<text class="sf" x="96.0" y="300.3" font-size="18.3" textLength="79.5" lengthAdjust="spacingAndGlyphs">LY294002</text>
<text class="sf" transform="translate(15.5 429.9) rotate(-90)" font-size="18" textLength="55.4" lengthAdjust="spacingAndGlyphs">Counts</text>
<text class="sf" x="91.0" y="530.3" font-size="17.7" textLength="133.5" lengthAdjust="spacingAndGlyphs">Annexin-V-FITC</text>
<!-- panel D -->
<path d="M303.2,464.5 303.9,464.7 304.7,465.0 305.4,465.3 306.2,465.6 306.9,465.8 307.7,465.8 308.4,465.8 309.2,465.8 309.9,465.7 310.6,465.7 311.4,465.7 312.1,465.6 312.9,465.6 313.6,465.6 314.4,465.5 315.1,465.5 315.9,465.5 316.6,465.4 317.3,465.4 318.1,465.3 318.8,465.3 319.6,465.3 320.3,465.2 321.1,465.2 321.8,465.0 322.6,464.6 323.3,464.1 324.0,463.6 324.8,463.1 325.5,462.6 326.3,462.0 327.0,461.5 327.8,461.0 328.5,460.5 329.3,460.0 330.0,459.5 330.7,458.8 331.5,457.8 332.2,456.7 333.0,455.5 333.7,454.3 334.5,453.1 335.2,451.9 336.0,450.3 336.7,447.9 337.4,445.1 338.2,442.2 338.9,439.4 339.7,436.5 340.4,433.7 341.2,431.4 341.9,430.1 342.7,429.6 343.4,429.2 344.1,428.8 344.9,428.4 345.6,428.0 346.4,427.6 347.1,427.2 347.9,426.8 348.6,426.6 349.4,426.6 350.1,426.7 350.8,426.7 351.6,426.8 352.3,426.8 353.1,426.9 353.8,426.9 354.6,427.0 355.3,427.1 356.1,427.1 356.8,427.2 357.5,427.2 358.3,427.3 359.0,427.4 359.8,427.4 360.5,427.5 361.3,427.5 362.0,427.6 362.8,427.7 363.5,427.7 364.2,427.8 365.0,427.8 365.7,427.9 366.5,427.9 367.2,428.0 368.0,428.1 368.7,428.1 369.5,428.2 370.2,428.2 370.9,428.3 371.7,428.4 372.4,428.4 373.2,428.5 373.9,428.7 374.7,428.8 375.4,429.0 376.2,429.1 376.9,429.2 377.6,429.4 378.4,429.5 379.1,429.7 379.9,429.8 380.6,430.0 381.4,430.1 382.1,430.2 382.9,430.4 383.6,430.5 384.3,430.7 385.1,430.8 385.8,431.0 386.6,431.1 387.3,431.2 388.1,431.4 388.8,431.5 389.6,431.7 390.3,431.8 391.0,432.0 391.8,432.1 392.5,432.2 393.3,432.4 394.0,432.5 394.8,432.3 395.5,431.7 396.3,430.9 397.0,430.1 397.7,429.3 398.5,428.5 399.2,427.8 400.0,427.0 400.7,426.2 401.5,425.4 402.2,424.7 403.0,423.9 403.7,422.9 404.4,421.2 405.2,418.6 405.9,415.9 406.7,413.1 407.4,410.4 408.2,407.6 408.9,404.9 409.7,402.1 410.4,399.3 411.1,396.5 411.9,393.7 412.6,390.9 413.4,388.1 414.1,385.4 414.9,382.9 415.6,381.0 416.4,379.8 417.1,378.5 417.8,377.3 418.6,376.1 419.3,374.9 420.1,373.7 420.8,372.5 421.6,371.4 422.3,370.9 423.1,371.5 423.8,372.5 424.5,373.5 425.3,374.5 426.0,375.5 426.8,376.6 427.5,378.0 428.3,380.9 429.0,385.4 429.8,390.3 430.5,395.2 431.3,400.2 432.0,405.1 432.7,410.0 433.5,414.5 434.2,418.7 435.0,422.8 435.7,426.9 436.5,431.0 437.2,435.1 438.0,439.2 438.7,443.0 439.4,445.9 440.2,448.2 440.9,450.4 441.7,452.7 442.4,454.9 443.2,457.1 443.9,459.2 444.7,460.6 445.4,461.6 446.1,462.6 446.9,463.5 447.6,464.5 448.4,465.4 449.1,466.4 449.9,467.4 450.6,468.4 451.4,469.3 452.1,470.0 452.8,470.6 453.6,471.0 454.3,471.5 455.1,472.0 455.8,472.5 L455.8,475.9 455.1,475.6 454.3,475.4 453.6,475.1 452.8,474.9 452.1,474.6 451.4,474.1 450.6,473.5 449.9,472.9 449.1,472.3 448.4,471.6 447.6,471.0 446.9,470.3 446.1,469.6 445.4,468.9 444.7,468.2 443.9,467.1 443.2,465.6 442.4,463.9 441.7,462.2 440.9,460.4 440.2,458.7 439.4,456.9 438.7,454.5 438.0,451.4 437.2,448.0 436.5,444.5 435.7,441.1 435.0,437.6 434.2,434.1 433.5,430.5 432.7,426.6 432.0,422.4 431.3,418.0 430.5,413.7 429.8,409.4 429.0,405.0 428.3,401.1 427.5,398.4 426.8,397.2 426.0,396.3 425.3,395.4 424.5,394.5 423.8,393.5 423.1,392.7 422.3,392.2 421.6,392.6 420.8,393.6 420.1,394.6 419.3,395.7 418.6,396.8 417.8,397.9 417.1,399.0 416.4,400.0 415.6,401.2 414.9,402.8 414.1,405.0 413.4,407.5 412.6,409.9 411.9,412.4 411.1,414.8 410.4,417.3 409.7,419.7 408.9,422.2 408.2,424.6 407.4,426.9 406.7,429.3 405.9,431.7 405.2,434.1 404.4,436.2 403.7,437.7 403.0,438.5 402.2,439.2 401.5,439.9 400.7,440.5 400.0,441.2 399.2,441.8 398.5,442.5 397.7,443.2 397.0,443.8 396.3,444.5 395.5,445.1 394.8,445.6 394.0,445.8 393.3,445.7 392.5,445.6 391.8,445.5 391.0,445.4 390.3,445.2 389.6,445.1 388.8,445.0 388.1,444.9 387.3,444.8 386.6,444.6 385.8,444.5 385.1,444.4 384.3,444.3 383.6,444.2 382.9,444.0 382.1,443.9 381.4,443.8 380.6,443.7 379.9,443.6 379.1,443.4 378.4,443.3 377.6,443.2 376.9,443.1 376.2,443.0 375.4,442.9 374.7,442.7 373.9,442.6 373.2,442.5 372.4,442.4 371.7,442.3 370.9,442.3 370.2,442.2 369.5,442.2 368.7,442.1 368.0,442.1 367.2,442.0 366.5,442.0 365.7,441.9 365.0,441.9 364.2,441.8 363.5,441.8 362.8,441.7 362.0,441.7 361.3,441.6 360.5,441.6 359.8,441.5 359.0,441.5 358.3,441.4 357.5,441.4 356.8,441.3 356.1,441.3 355.3,441.2 354.6,441.2 353.8,441.1 353.1,441.1 352.3,441.0 351.6,441.0 350.8,440.9 350.1,440.9 349.4,440.9 348.6,440.9 347.9,441.1 347.1,441.4 346.4,441.7 345.6,442.1 344.9,442.4 344.1,442.7 343.4,443.1 342.7,443.4 341.9,443.8 341.2,444.9 340.4,446.8 339.7,449.1 338.9,451.5 338.2,453.9 337.4,456.2 336.7,458.5 336.0,460.3 335.2,461.6 334.5,462.5 333.7,463.4 333.0,464.4 332.2,465.3 331.5,466.2 330.7,466.9 330.0,467.4 329.3,467.8 328.5,468.1 327.8,468.5 327.0,468.9 326.3,469.2 325.5,469.6 324.8,470.0 324.0,470.3 323.3,470.7 322.6,471.1 321.8,471.3 321.1,471.5 320.3,471.5 319.6,471.5 318.8,471.5 318.1,471.6 317.3,471.6 316.6,471.6 315.9,471.6 315.1,471.7 314.4,471.7 313.6,471.7 312.9,471.7 312.1,471.8 311.4,471.8 310.6,471.8 309.9,471.8 309.2,471.9 308.4,471.9 307.7,471.9 306.9,471.8 306.2,471.7 305.4,471.5 304.7,471.3 303.9,471.2 303.2,471.0 Z" fill="#000" stroke="none"/>
<path d="M303.2,467.7 303.4,467.7 303.6,461.8 303.8,473.6 303.9,467.7 304.1,467.7 304.3,467.7 304.5,473.6 304.7,470.7 304.9,455.9 305.1,470.7 305.2,470.7 305.4,473.6 305.6,464.8 305.8,473.6 306.0,467.7 306.2,473.6 306.4,476.6 306.6,470.7 306.7,467.7 306.9,467.7 307.1,461.8 307.3,461.8 307.5,467.7 307.7,461.8 307.9,464.8 308.0,467.7 308.2,464.8 308.4,473.6 308.6,470.7 308.8,476.6 309.0,458.8 309.2,467.7 309.3,464.8 309.5,464.8 309.7,470.7 309.9,467.7 310.1,470.7 310.3,464.8 310.5,470.7 310.6,470.7 310.8,473.6 311.0,470.7 311.2,467.7 311.4,467.7 311.6,470.7 311.8,476.6 311.9,464.8 312.1,476.6 312.3,470.7 312.5,470.7 312.7,470.7 312.9,467.7 313.1,461.8 313.3,470.7 313.4,470.7 313.6,467.7 313.8,467.7 314.0,464.8 314.2,470.7 314.4,467.7 314.6,473.6 314.7,467.7 314.9,473.6 315.1,464.8 315.3,461.8 315.5,467.7 315.7,464.8 315.9,476.6 316.0,467.7 316.2,467.7 316.4,473.6 316.6,476.6 316.8,467.7 317.0,464.8 317.2,455.9 317.3,464.8 317.5,467.7 317.7,470.7 317.9,464.8 318.1,464.8 318.3,464.8 318.5,470.7 318.6,470.7 318.8,461.8 319.0,455.9 319.2,473.6 319.4,464.8 319.6,464.8 319.8,470.7 320.0,467.7 320.1,467.7 320.3,467.7 320.5,467.7 320.7,470.7 320.9,470.7 321.1,467.7 321.3,476.6 321.4,464.8 321.6,467.7 321.8,470.7 322.0,473.6 322.2,470.7 322.4,464.8 322.6,473.6 322.7,467.7 322.9,476.6 323.1,470.7 323.3,461.8 323.5,467.7 323.7,455.9 323.9,473.6 324.0,470.7 324.2,467.7 324.4,467.7 324.6,464.8 324.8,464.8 325.0,473.6 325.2,464.8 325.3,476.6 325.5,476.6 325.7,464.8 325.9,458.8 326.1,458.8 326.3,461.8 326.5,473.6 326.7,467.7 326.8,467.7 327.0,461.8 327.2,470.7 327.4,461.8 327.6,458.8 327.8,458.8 328.0,467.7 328.1,464.8 328.3,458.8 328.5,461.8 328.7,458.8 328.9,470.7 329.1,461.8 329.3,464.8 329.4,464.8 329.6,461.8 329.8,464.8 330.0,464.8 330.2,455.9 330.4,452.9 330.6,467.7 330.7,461.8 330.9,452.9 331.1,452.9 331.3,461.8 331.5,470.7 331.7,455.9 331.9,464.8 332.0,458.8 332.2,464.8 332.4,464.8 332.6,458.8 332.8,470.7 333.0,449.9 333.2,455.9 333.4,449.9 333.5,455.9 333.7,449.9 333.9,458.8 334.1,455.9 334.3,461.8 334.5,447.0 334.7,449.9 334.8,452.9 335.0,470.7 335.2,470.7 335.4,452.9 335.6,444.0 335.8,461.8 336.0,461.8 336.1,464.8 336.3,458.8 336.5,458.8 336.7,441.1 336.9,449.9 337.1,458.8 337.3,452.9 337.4,438.1 337.6,455.9 337.8,461.8 338.0,447.0 338.2,452.9 338.4,438.1 338.6,452.9 338.7,444.0 338.9,441.1 339.1,432.2 339.3,441.1 339.5,432.2 339.7,429.2 339.9,452.9 340.1,426.2 340.2,444.0 340.4,447.0 340.6,432.2 340.8,432.2 341.0,438.1 341.2,449.9 341.4,441.1 341.5,438.1 341.7,449.9 341.9,420.3 342.1,429.2 342.3,441.1 342.5,444.0 342.7,464.8 342.8,438.1 343.0,447.0 343.2,423.3 343.4,455.9 343.6,405.5 343.8,444.0 344.0,438.1 344.1,441.1 344.3,441.1 344.5,449.9 344.7,429.2 344.9,444.0 345.1,426.2 345.3,449.9 345.4,426.2 345.6,444.0 345.8,435.1 346.0,444.0 346.2,447.0 346.4,444.0 346.6,438.1 346.8,458.8 346.9,435.1 347.1,432.2 347.3,444.0 347.5,435.1 347.7,444.0 347.9,435.1 348.1,429.2 348.2,438.1 348.4,435.1 348.6,414.4 348.8,432.2 349.0,432.2 349.2,449.9 349.4,432.2 349.5,441.1 349.7,438.1 349.9,420.3 350.1,423.3 350.3,441.1 350.5,441.1 350.7,435.1 350.8,429.2 351.0,447.0 351.2,435.1 351.4,447.0 351.6,435.1 351.8,432.2 352.0,444.0 352.1,441.1 352.3,438.1 352.5,438.1 352.7,455.9 352.9,441.1 353.1,432.2 353.3,444.0 353.5,426.2 353.6,441.1 353.8,432.2 354.0,429.2 354.2,405.5 354.4,414.4 354.6,447.0 354.8,432.2 354.9,441.1 355.1,435.1 355.3,444.0 355.5,438.1 355.7,432.2 355.9,435.1 356.1,438.1 356.2,435.1 356.4,429.2 356.6,447.0 356.8,426.2 357.0,438.1 357.2,429.2 357.4,449.9 357.5,455.9 357.7,423.3 357.9,438.1 358.1,432.2 358.3,432.2 358.5,438.1 358.7,449.9 358.8,420.3 359.0,444.0 359.2,441.1 359.4,423.3 359.6,435.1 359.8,420.3 360.0,435.1 360.2,429.2 360.3,405.5 360.5,435.1 360.7,435.1 360.9,449.9 361.1,441.1 361.3,435.1 361.5,447.0 361.6,429.2 361.8,441.1 362.0,423.3 362.2,441.1 362.4,420.3 362.6,432.2 362.8,444.0 362.9,414.4 363.1,441.1 363.3,432.2 363.5,438.1 363.7,441.1 363.9,432.2 364.1,435.1 364.2,449.9 364.4,447.0 364.6,435.1 364.8,449.9 365.0,423.3 365.2,432.2 365.4,426.2 365.5,435.1 365.7,435.1 365.9,458.8 366.1,432.2 366.3,414.4 366.5,441.1 366.7,435.1 366.9,420.3 367.0,420.3 367.2,444.0 367.4,438.1 367.6,441.1 367.8,455.9 368.0,429.2 368.2,435.1 368.3,432.2 368.5,444.0 368.7,426.2 368.9,438.1 369.1,438.1 369.3,438.1 369.5,455.9 369.6,426.2 369.8,441.1 370.0,438.1 370.2,417.4 370.4,420.3 370.6,441.1 370.8,438.1 370.9,441.1 371.1,411.4 371.3,402.6 371.5,438.1 371.7,420.3 371.9,432.2 372.1,464.8 372.3,444.0 372.4,444.0 372.6,432.2 372.8,455.9 373.0,429.2 373.2,429.2 373.4,441.1 373.6,458.8 373.7,432.2 373.9,435.1 374.1,429.2 374.3,414.4 374.5,441.1 374.7,426.2 374.9,444.0 375.0,435.1 375.2,444.0 375.4,444.0 375.6,444.0 375.8,452.9 376.0,411.4 376.2,423.3 376.3,432.2 376.5,432.2 376.7,435.1 376.9,452.9 377.1,444.0 377.3,429.2 377.5,432.2 377.6,420.3 377.8,461.8 378.0,414.4 378.2,438.1 378.4,449.9 378.6,441.1 378.8,429.2 379.0,432.2 379.1,435.1 379.3,461.8 379.5,432.2 379.7,441.1 379.9,449.9 380.1,447.0 380.3,444.0 380.4,444.0 380.6,438.1 380.8,417.4 381.0,432.2 381.2,435.1 381.4,426.2 381.6,438.1 381.7,429.2 381.9,452.9 382.1,441.1 382.3,435.1 382.5,438.1 382.7,458.8 382.9,435.1 383.0,414.4 383.2,435.1 383.4,447.0 383.6,435.1 383.8,444.0 384.0,441.1 384.2,408.5 384.3,452.9 384.5,447.0 384.7,426.2 384.9,420.3 385.1,438.1 385.3,417.4 385.5,449.9 385.7,447.0 385.8,420.3 386.0,447.0 386.2,438.1 386.4,438.1 386.6,441.1 386.8,423.3 387.0,447.0 387.1,447.0 387.3,455.9 387.5,444.0 387.7,438.1 387.9,441.1 388.1,423.3 388.3,414.4 388.4,438.1 388.6,420.3 388.8,429.2 389.0,408.5 389.2,438.1 389.4,447.0 389.6,426.2 389.7,432.2 389.9,441.1 390.1,441.1 390.3,435.1 390.5,435.1 390.7,429.2 390.9,438.1 391.0,435.1 391.2,441.1 391.4,452.9 391.6,420.3 391.8,455.9 392.0,438.1 392.2,444.0 392.4,423.3 392.5,435.1 392.7,441.1 392.9,449.9 393.1,435.1 393.3,452.9 393.5,432.2 393.7,438.1 393.8,429.2 394.0,417.4 394.2,444.0 394.4,429.2 394.6,444.0 394.8,435.1 395.0,426.2 395.1,426.2 395.3,438.1 395.5,455.9 395.7,455.9 395.9,444.0 396.1,435.1 396.3,423.3 396.4,444.0 396.6,449.9 396.8,429.2 397.0,438.1 397.2,441.1 397.4,435.1 397.6,461.8 397.7,432.2 397.9,438.1 398.1,441.1 398.3,417.4 398.5,438.1 398.7,452.9 398.9,411.4 399.1,458.8 399.2,441.1 399.4,432.2 399.6,444.0 399.8,438.1 400.0,449.9 400.2,432.2 400.4,441.1 400.5,432.2 400.7,432.2 400.9,423.3 401.1,455.9 401.3,429.2 401.5,438.1 401.7,444.0 401.8,432.2 402.0,435.1 402.2,429.2 402.4,444.0 402.6,423.3 402.8,417.4 403.0,438.1 403.1,423.3 403.3,444.0 403.5,420.3 403.7,417.4 403.9,429.2 404.1,447.0 404.3,435.1 404.4,464.8 404.6,423.3 404.8,432.2 405.0,438.1 405.2,429.2 405.4,429.2 405.6,405.5 405.8,426.2 405.9,423.3 406.1,417.4 406.3,426.2 406.5,423.3 406.7,420.3 406.9,423.3 407.1,390.7 407.2,444.0 407.4,432.2 407.6,417.4 407.8,420.3 408.0,411.4 408.2,390.7 408.4,408.5 408.5,423.3 408.7,408.5 408.9,417.4 409.1,399.6 409.3,372.9 409.5,405.5 409.7,399.6 409.8,402.6 410.0,396.6 410.2,408.5 410.4,396.6 410.6,408.5 410.8,414.4 411.0,402.6 411.1,405.5 411.3,372.9 411.5,423.3 411.7,417.4 411.9,396.6 412.1,387.7 412.3,420.3 412.5,411.4 412.6,417.4 412.8,393.7 413.0,375.9 413.2,408.5 413.4,378.9 413.6,390.7 413.8,387.7 413.9,408.5 414.1,402.6 414.3,387.7 414.5,399.6 414.7,396.6 414.9,375.9 415.1,417.4 415.2,378.9 415.4,372.9 415.6,414.4 415.8,426.2 416.0,390.7 416.2,393.7 416.4,387.7 416.5,384.8 416.7,390.7 416.9,381.8 417.1,405.5 417.3,384.8 417.5,393.7 417.7,411.4 417.8,378.9 418.0,390.7 418.2,381.8 418.4,402.6 418.6,402.6 418.8,405.5 419.0,384.8 419.2,381.8 419.3,343.3 419.5,396.6 419.7,375.9 419.9,358.1 420.1,405.5 420.3,387.7 420.5,381.8 420.6,375.9 420.8,378.9 421.0,384.8 421.2,402.6 421.4,393.7 421.6,372.9 421.8,349.2 421.9,370.0 422.1,375.9 422.3,349.2 422.5,364.0 422.7,390.7 422.9,384.8 423.1,399.6 423.2,384.8 423.4,387.7 423.6,361.1 423.8,372.9 424.0,396.6 424.2,387.7 424.4,429.2 424.5,384.8 424.7,393.7 424.9,384.8 425.1,358.1 425.3,396.6 425.5,399.6 425.7,396.6 425.9,393.7 426.0,384.8 426.2,378.9 426.4,390.7 426.6,396.6 426.8,367.0 427.0,390.7 427.2,367.0 427.3,393.7 427.5,375.9 427.7,390.7 427.9,384.8 428.1,390.7 428.3,370.0 428.5,384.8 428.6,405.5 428.8,420.3 429.0,396.6 429.2,402.6 429.4,393.7 429.6,408.5 429.8,405.5 429.9,435.1 430.1,387.7 430.3,405.5 430.5,393.7 430.7,417.4 430.9,405.5 431.1,423.3 431.3,414.4 431.4,405.5 431.6,411.4 431.8,387.7 432.0,393.7 432.2,426.2 432.4,408.5 432.6,423.3 432.7,417.4 432.9,435.1 433.1,396.6 433.3,420.3 433.5,396.6 433.7,420.3 433.9,417.4 434.0,387.7 434.2,396.6 434.4,441.1 434.6,447.0 434.8,408.5 435.0,423.3 435.2,444.0 435.3,417.4 435.5,402.6 435.7,426.2 435.9,423.3 436.1,426.2 436.3,429.2 436.5,444.0 436.6,438.1 436.8,438.1 437.0,438.1 437.2,449.9 437.4,432.2 437.6,452.9 437.8,455.9 438.0,444.0 438.1,429.2 438.3,458.8 438.5,441.1 438.7,455.9 438.9,458.8 439.1,444.0 439.3,455.9 439.4,447.0 439.6,455.9 439.8,438.1 440.0,447.0 440.2,461.8 440.4,458.8 440.6,444.0 440.7,449.9 440.9,455.9 441.1,461.8 441.3,435.1 441.5,455.9 441.7,447.0 441.9,449.9 442.0,449.9 442.2,455.9 442.4,455.9 442.6,452.9 442.8,461.8 443.0,452.9 443.2,464.8 443.3,473.6 443.5,458.8 443.7,461.8 443.9,455.9 444.1,464.8 444.3,458.8 444.5,464.8 444.7,467.7 444.8,470.7 445.0,464.8 445.2,464.8 445.4,464.8 445.6,461.8 445.8,458.8 446.0,476.6 446.1,467.7 446.3,476.6 446.5,464.8 446.7,455.9 446.9,461.8 447.1,461.8 447.3,464.8 447.4,473.6 447.6,467.7 447.8,467.7 448.0,470.7 448.2,473.6 448.4,464.8 448.6,458.8 448.7,461.8 448.9,470.7 449.1,473.6 449.3,470.7 449.5,464.8 449.7,473.6 449.9,473.6 450.0,467.7 450.2,470.7 450.4,473.6 450.6,470.7 450.8,470.7 451.0,467.7 451.2,473.6 451.4,470.7 451.5,476.6 451.7,476.6 451.9,467.7 452.1,476.6 452.3,476.6 452.5,467.7 452.7,470.7 452.8,476.6 453.0,467.7 453.2,470.7 453.4,473.6 453.6,470.7 453.8,473.6 454.0,476.6 454.1,467.7 454.3,473.6 454.5,473.6 454.7,467.7 454.9,473.6 455.1,467.7 455.3,470.7 455.4,470.7 455.6,476.6 455.8,470.7 456.0,473.6 456.2,476.6 456.4,476.6 456.6,470.7 456.7,473.6 456.9,473.6 457.1,473.6 457.3,476.6 457.5,470.7 457.7,476.6 457.9,470.7 458.1,476.6 458.2,473.6 458.4,473.6 458.6,476.6 458.8,476.6 459.0,473.6 459.2,473.6 459.4,476.6 459.5,476.6 459.7,476.6 459.9,476.6 460.1,476.6 460.3,473.6 460.5,476.6 460.7,476.6 460.8,476.6 461.0,476.6 461.2,476.6 461.4,476.6 461.6,476.6 461.8,476.6 462.0,476.6 462.1,476.6 462.3,476.6 462.5,476.6 462.7,476.6 462.9,476.6 463.1,476.6 463.3,476.6 463.4,476.6 463.6,476.6 463.8,476.6 464.0,476.6 464.2,476.6 464.4,476.6 464.6,476.6 464.8,476.6 464.9,476.6 465.1,476.6 465.3,476.6 465.5,476.6 465.7,476.6 465.9,476.6 466.1,476.6 466.2,476.6 466.4,476.6 466.6,476.6 466.8,476.6 467.0,476.6 467.2,476.6 467.4,476.6 467.5,476.6 467.7,476.6 467.9,476.6 468.1,476.6 468.3,476.6 468.5,476.6 468.7,476.6 468.8,476.6 469.0,476.6 469.2,476.6 469.4,476.6 469.6,476.6 469.8,476.6 470.0,476.6 470.1,476.6 470.3,476.6 470.5,476.6 470.7,476.6 470.9,476.6 471.1,476.6 471.3,476.6 471.5,476.6 471.6,476.6 471.8,476.6 472.0,476.6 472.2,476.6 472.4,476.6 472.6,476.6 472.8,476.6 472.9,476.6 473.1,476.6 473.3,476.6 473.5,476.6 473.7,476.6 473.9,476.6 474.1,476.6 474.2,476.6 474.4,476.6 474.6,476.6 474.8,476.6 475.0,476.6 475.2,476.6 475.4,476.6 475.5,476.6 475.7,476.6 475.9,476.6 476.1,476.6 476.3,476.6 476.5,476.6 476.7,476.6 476.8,476.6 477.0,476.6 477.2,476.6 477.4,476.6 477.6,476.6 477.8,476.6 478.0,476.6 478.2,476.6 478.3,476.6 478.5,476.6 478.7,476.6 478.9,476.6 479.1,476.6 479.3,476.6 479.5,476.6 479.6,476.6 479.8,476.6 480.0,476.6 480.2,476.6 480.4,476.6 480.6,476.6 480.8,476.6 480.9,476.6 481.1,476.6 481.3,476.6 481.5,476.6 481.7,476.6 481.9,476.6 482.1,476.6 482.2,476.6 482.4,476.6 482.6,476.6 482.8,476.6 483.0,476.6 483.2,476.6 483.4,476.6 483.5,476.6 483.7,476.6 483.9,476.6 484.1,476.6 484.3,476.6 484.5,476.6 484.7,476.6 484.9,476.6 485.0,476.6 485.2,476.6 485.4,476.6 485.6,476.6 485.8,476.6 486.0,476.6 486.2,476.6 486.3,476.6 486.5,476.6 486.7,476.6 486.9,476.6 487.1,476.6 487.3,476.6 487.5,476.6 487.6,476.6 487.8,476.6 488.0,476.6 488.2,476.6 488.4,476.6 488.6,476.6 488.8,476.6 488.9,476.6 489.1,476.6 489.3,476.6 489.5,476.6 489.7,476.6 489.9,476.6 490.1,476.6 490.2,476.6 490.4,476.6 490.6,476.6 490.8,476.6 491.0,476.6 491.2,476.6 491.4,476.6 491.6,476.6 491.7,476.6 491.9,476.6 492.1,476.6 492.3,476.6 492.5,476.6 492.7,476.6 492.9,476.6 493.0,476.6 493.2,476.6 493.4,476.6 493.6,476.6" fill="none" stroke="#000" stroke-width="1.25" stroke-linejoin="miter"/>
<path d="M303.2,298.5 V477.5" stroke="#000" stroke-width="2.3" fill="none"/>
<path d="M297.7,476.6 H494.1" stroke="#000" stroke-width="1.7" fill="none"/>
<path d="M297.7,476.60 H303.2 M299.8,470.54 H303.2 M299.8,464.48 H303.2 M299.8,458.42 H303.2 M299.8,452.36 H303.2 M297.7,446.30 H303.2 M299.8,440.31 H303.2 M299.8,434.32 H303.2 M299.8,428.33 H303.2 M299.8,422.34 H303.2 M297.7,416.35 H303.2 M299.8,410.52 H303.2 M299.8,404.69 H303.2 M299.8,398.86 H303.2 M299.8,393.03 H303.2 M297.7,387.20 H303.2 M299.8,381.34 H303.2 M299.8,375.48 H303.2 M299.8,369.62 H303.2 M299.8,363.76 H303.2 M297.7,357.90 H303.2 M299.8,352.02 H303.2 M299.8,346.14 H303.2 M299.8,340.26 H303.2 M299.8,334.38 H303.2 M297.7,328.50 H303.2 M299.8,322.58 H303.2 M299.8,316.66 H303.2 M299.8,310.74 H303.2 M299.8,304.82 H303.2 M297.7,298.90 H303.2 " stroke="#000" stroke-width="1.5" fill="none"/>
<path d="M303.20,476.6 V482.1 M317.53,476.6 V478.8 M325.91,476.6 V478.8 M331.86,476.6 V478.8 M336.47,476.6 V478.8 M340.24,476.6 V478.8 M343.43,476.6 V478.8 M346.19,476.6 V478.8 M348.62,476.6 V478.8 M350.80,476.6 V482.1 M365.13,476.6 V478.8 M373.51,476.6 V478.8 M379.46,476.6 V478.8 M384.07,476.6 V478.8 M387.84,476.6 V478.8 M391.03,476.6 V478.8 M393.79,476.6 V478.8 M396.22,476.6 V478.8 M398.40,476.6 V482.1 M412.73,476.6 V478.8 M421.11,476.6 V478.8 M427.06,476.6 V478.8 M431.67,476.6 V478.8 M435.44,476.6 V478.8 M438.63,476.6 V478.8 M441.39,476.6 V478.8 M443.82,476.6 V478.8 M446.00,476.6 V482.1 M460.33,476.6 V478.8 M468.71,476.6 V478.8 M474.66,476.6 V478.8 M479.27,476.6 V478.8 M483.04,476.6 V478.8 M486.23,476.6 V478.8 M488.99,476.6 V478.8 M491.42,476.6 V478.8 M493.60,476.6 V482.1 " stroke="#000" stroke-width="1.1" fill="none"/>
<text class="sf" x="291.5" y="485.5" font-size="18.4" text-anchor="end" textLength="8.8" lengthAdjust="spacingAndGlyphs">0</text>
<text class="sf" x="294.5" y="456.2" font-size="18.4" text-anchor="end" textLength="17.5" lengthAdjust="spacingAndGlyphs">10</text>
<text class="sf" x="294.5" y="427.0" font-size="18.4" text-anchor="end" textLength="17.5" lengthAdjust="spacingAndGlyphs">20</text>
<text class="sf" x="294.5" y="397.8" font-size="18.4" text-anchor="end" textLength="17.5" lengthAdjust="spacingAndGlyphs">30</text>
<text class="sf" x="294.5" y="368.5" font-size="18.4" text-anchor="end" textLength="17.5" lengthAdjust="spacingAndGlyphs">40</text>
<text class="sf" x="294.5" y="339.2" font-size="18.4" text-anchor="end" textLength="17.5" lengthAdjust="spacingAndGlyphs">50</text>
<text class="sf" x="294.5" y="310.0" font-size="18.4" text-anchor="end" textLength="17.5" lengthAdjust="spacingAndGlyphs">60</text>
<text class="sf" x="299.8" y="505.90000000000003" font-size="18.5" textLength="16.8" lengthAdjust="spacingAndGlyphs">10</text>
<text class="sf" x="317.0" y="499.9" font-size="14.5" textLength="5.5" lengthAdjust="spacingAndGlyphs">0</text>
<text class="sf" x="347.7" y="505.90000000000003" font-size="18.5" textLength="16.8" lengthAdjust="spacingAndGlyphs">10</text>
<text class="sf" x="364.9" y="499.9" font-size="14.5" textLength="5.5" lengthAdjust="spacingAndGlyphs">1</text>
<text class="sf" x="395.6" y="505.90000000000003" font-size="18.5" textLength="16.8" lengthAdjust="spacingAndGlyphs">10</text>
<text class="sf" x="412.8" y="499.9" font-size="14.5" textLength="5.5" lengthAdjust="spacingAndGlyphs">2</text>
<text class="sf" x="443.5" y="505.90000000000003" font-size="18.5" textLength="16.8" lengthAdjust="spacingAndGlyphs">10</text>
<text class="sf" x="460.7" y="499.9" font-size="14.5" textLength="5.5" lengthAdjust="spacingAndGlyphs">3</text>
<text class="sf" x="491.4" y="505.90000000000003" font-size="18.5" textLength="16.8" lengthAdjust="spacingAndGlyphs">10</text>
<text class="sf" x="508.6" y="499.9" font-size="14.5" textLength="5.5" lengthAdjust="spacingAndGlyphs">4</text>
<text class="ss" x="257.0" y="287.7" font-size="29.5" stroke="#000" stroke-width="0.6">D</text>
<text class="sf" x="348.3" y="300.8" font-size="18.8" textLength="106" lengthAdjust="spacingAndGlyphs">GM-CSF+LY</text>
<text class="sf" transform="translate(270.0 426.9) rotate(-90)" font-size="18" textLength="56" lengthAdjust="spacingAndGlyphs">Counts</text>
<text class="sf" x="345.6" y="527.8" font-size="17.7" textLength="133.5" lengthAdjust="spacingAndGlyphs">Annexin-V-FITC</text>
<!-- panel E -->
<text class="ss" x="0.2" y="560" font-size="29.5" textLength="18.4" lengthAdjust="spacingAndGlyphs" stroke="#000" stroke-width="0.6">E</text>
<text class="sf" x="106.6" y="574.4" font-size="17.2" textLength="42.5" lengthAdjust="spacingAndGlyphs">20hrs</text>
<path d="M61.4,572.00 V925.3000000000001 " stroke="#000" stroke-width="1.5" fill="none"/>
<path d="M60.699999999999996,924.6 H471.5" stroke="#000" stroke-width="1.5" fill="none"/>
<path d="M54.9,924.60 H61.4 M54.9,889.40 H61.4 M54.9,854.20 H61.4 M54.9,819.00 H61.4 M54.9,783.80 H61.4 M54.9,748.60 H61.4 M54.9,713.40 H61.4 M54.9,678.20 H61.4 M54.9,643.00 H61.4 M54.9,607.80 H61.4 M54.9,572.60 H61.4 " stroke="#000" stroke-width="1.3" fill="none"/>
<text class="ss" x="50.8" y="931.4" font-size="16.4" text-anchor="end" textLength="9.0" lengthAdjust="spacingAndGlyphs">0</text>
<text class="ss" x="53.6" y="896.2" font-size="16.4" text-anchor="end" textLength="18.0" lengthAdjust="spacingAndGlyphs">10</text>
<text class="ss" x="53.6" y="861.0" font-size="16.4" text-anchor="end" textLength="18.0" lengthAdjust="spacingAndGlyphs">20</text>
<text class="ss" x="53.6" y="825.8" font-size="16.4" text-anchor="end" textLength="18.0" lengthAdjust="spacingAndGlyphs">30</text>
<text class="ss" x="53.6" y="790.6" font-size="16.4" text-anchor="end" textLength="18.0" lengthAdjust="spacingAndGlyphs">40</text>
<text class="ss" x="53.6" y="755.4" font-size="16.4" text-anchor="end" textLength="18.0" lengthAdjust="spacingAndGlyphs">50</text>
<text class="ss" x="53.6" y="720.2" font-size="16.4" text-anchor="end" textLength="18.0" lengthAdjust="spacingAndGlyphs">60</text>
<text class="ss" x="53.6" y="685.0" font-size="16.4" text-anchor="end" textLength="18.0" lengthAdjust="spacingAndGlyphs">70</text>
<text class="ss" x="53.6" y="649.8" font-size="16.4" text-anchor="end" textLength="18.0" lengthAdjust="spacingAndGlyphs">80</text>
<text class="ss" x="53.6" y="614.6" font-size="16.4" text-anchor="end" textLength="18.0" lengthAdjust="spacingAndGlyphs">90</text>
<text class="ss" x="54.9" y="578.5" font-size="16.4" text-anchor="end" textLength="25.6" lengthAdjust="spacingAndGlyphs">100</text>
<path d="M91.6,924.6 V931.6 M161.2,924.6 V931.6 M230.9,924.6 V931.6 M300.2,924.6 V931.6 M369.8,924.6 V931.6 M439.6,924.6 V931.6 " stroke="#000" stroke-width="1.3" fill="none"/>
<text class="sf" transform="translate(13.5 908.3) rotate(-90)" font-size="18.5" textLength="327" lengthAdjust="spacingAndGlyphs">Neutrophil Apoptosis (% Annexin-V high)</text>
<text class="sf" x="62.2" y="953.0" font-size="15.2" textLength="49.6" lengthAdjust="spacingAndGlyphs">Control</text>
<text class="sf" x="126.0" y="953.0" font-size="15.2" textLength="64.2" lengthAdjust="spacingAndGlyphs">LY294002</text>
<text class="sf" x="198.5" y="953.0" font-size="15.2" textLength="59" lengthAdjust="spacingAndGlyphs">GM-CSF</text>
<text class="sf" x="269.6" y="954.6" font-size="15.2" textLength="59" lengthAdjust="spacingAndGlyphs">GM-CSF</text>
<text class="sf" x="261.6" y="972.3" font-size="15.2" textLength="74.8" lengthAdjust="spacingAndGlyphs">+LY294002</text>
<text class="sf" x="353.6" y="953.8" font-size="15.2" textLength="27.4" lengthAdjust="spacingAndGlyphs">TNF</text>
<text class="sf" x="381.4" y="953.8" font-size="15.5" textLength="11.2" lengthAdjust="spacingAndGlyphs"><tspan style="font-weight:normal;stroke-width:0.3px">α</tspan></text>
<text class="sf" x="420.4" y="954.4" font-size="15.2" textLength="27.4" lengthAdjust="spacingAndGlyphs">TNF</text>
<text class="sf" x="448.2" y="954.4" font-size="15.5" textLength="11.2" lengthAdjust="spacingAndGlyphs"><tspan style="font-weight:normal;stroke-width:0.3px">α</tspan></text>
<text class="sf" x="401.3" y="972.1" font-size="15.2" textLength="74.2" lengthAdjust="spacingAndGlyphs">+LY294002</text>
<path d="M71.6,737.9 H113.5" stroke="#000" stroke-width="1.5" fill="none"/>
<path d="M71.6,732.9 H113.5 M71.6,743.4 H113.5" stroke="#000" stroke-width="1.5" stroke-dasharray="9 2.6" fill="none"/>
<ellipse cx="92.4" cy="704.4" rx="4.35" ry="5.3" fill="#000"/>
<ellipse cx="84.1" cy="734.2" rx="4.35" ry="5.3" fill="#000"/>
<ellipse cx="92.4" cy="731.8" rx="4.35" ry="5.3" fill="#000"/>
<ellipse cx="101" cy="734.6" rx="4.35" ry="5.3" fill="#000"/>
<ellipse cx="75.6" cy="743.5" rx="4.35" ry="5.3" fill="#000"/>
<ellipse cx="109.3" cy="744" rx="4.35" ry="5.3" fill="#000"/>
<ellipse cx="86.8" cy="749.4" rx="4.35" ry="5.3" fill="#000"/>
<ellipse cx="98.2" cy="754.2" rx="4.35" ry="5.3" fill="#000"/>
<path d="M140.9,722.6 H182.1" stroke="#000" stroke-width="1.5" fill="none"/>
<path d="M140.9,712.5 H182.1 M140.9,734.0 H182.1" stroke="#000" stroke-width="1.5" stroke-dasharray="9 2.6" fill="none"/>
<ellipse cx="162.1" cy="653.5" rx="4.35" ry="5.3" fill="#000"/>
<ellipse cx="162.1" cy="686" rx="4.35" ry="5.3" fill="#000"/>
<ellipse cx="156.7" cy="714.8" rx="4.35" ry="5.3" fill="#000"/>
<ellipse cx="167.4" cy="718.5" rx="4.35" ry="5.3" fill="#000"/>
<ellipse cx="152.4" cy="739.3" rx="4.35" ry="5.3" fill="#000"/>
<ellipse cx="161.9" cy="737.3" rx="4.35" ry="5.3" fill="#000"/>
<ellipse cx="171.7" cy="739.3" rx="4.35" ry="5.3" fill="#000"/>
<ellipse cx="161.9" cy="746.5" rx="4.35" ry="5.3" fill="#000"/>
<path d="M210.8,816.0 H252.6" stroke="#000" stroke-width="1.5" fill="none"/>
<path d="M210.8,808.7 H252.6 M210.8,823.2 H252.6" stroke="#000" stroke-width="1.5" stroke-dasharray="9 2.6" fill="none"/>
<ellipse cx="231.2" cy="760.6" rx="4.35" ry="5.3" fill="#000"/>
<ellipse cx="231.2" cy="810.2" rx="4.35" ry="5.3" fill="#000"/>
<ellipse cx="224" cy="813.9" rx="4.35" ry="5.3" fill="#000"/>
<ellipse cx="216.8" cy="820.3" rx="4.35" ry="5.3" fill="#000"/>
<ellipse cx="238.2" cy="818.8" rx="4.35" ry="5.3" fill="#000"/>
<ellipse cx="248.6" cy="823.7" rx="4.35" ry="5.3" fill="#000"/>
<ellipse cx="224" cy="828.9" rx="4.35" ry="5.3" fill="#000"/>
<ellipse cx="238.2" cy="830.4" rx="4.35" ry="5.3" fill="#000"/>
<path d="M278.8,748.7 H321.2" stroke="#000" stroke-width="1.5" fill="none"/>
<path d="M278.8,740.1 H321.2 M278.8,756.0 H321.2" stroke="#000" stroke-width="1.5" stroke-dasharray="9 2.6" fill="none"/>
<ellipse cx="301" cy="710.1" rx="4.35" ry="5.3" fill="#000"/>
<ellipse cx="294.7" cy="718.7" rx="4.35" ry="5.3" fill="#000"/>
<ellipse cx="306.2" cy="723.6" rx="4.35" ry="5.3" fill="#000"/>
<ellipse cx="291" cy="757.4" rx="4.35" ry="5.3" fill="#000"/>
<ellipse cx="301" cy="753.9" rx="4.35" ry="5.3" fill="#000"/>
<ellipse cx="310.6" cy="759.7" rx="4.35" ry="5.3" fill="#000"/>
<ellipse cx="301" cy="771.2" rx="4.35" ry="5.3" fill="#000"/>
<ellipse cx="301" cy="783.4" rx="4.35" ry="5.3" fill="#000"/>
<path d="M348.7,757.5 H391.4" stroke="#000" stroke-width="1.5" fill="none"/>
<path d="M348.7,745.7 H391.4 M348.7,769.0 H391.4" stroke="#000" stroke-width="1.5" stroke-dasharray="9 2.6" fill="none"/>
<ellipse cx="370.4" cy="704.1" rx="4.35" ry="5.3" fill="#000"/>
<ellipse cx="370.4" cy="740.8" rx="4.35" ry="5.3" fill="#000"/>
<ellipse cx="370.4" cy="755.8" rx="4.35" ry="5.3" fill="#000"/>
<ellipse cx="373.8" cy="771" rx="4.35" ry="5.3" fill="#000"/>
<ellipse cx="366.6" cy="777.4" rx="4.35" ry="5.3" fill="#000"/>
<ellipse cx="370.4" cy="791.8" rx="4.35" ry="5.3" fill="#000"/>
<path d="M417.4,742.8 H459.8" stroke="#000" stroke-width="1.5" fill="none"/>
<path d="M417.4,728.6 H459.8 M417.4,755.8 H459.8" stroke="#000" stroke-width="1.5" stroke-dasharray="9 2.6" fill="none"/>
<ellipse cx="440.5" cy="683.1" rx="4.35" ry="5.3" fill="#000"/>
<ellipse cx="440.5" cy="722" rx="4.35" ry="5.3" fill="#000"/>
<ellipse cx="444.5" cy="738.7" rx="4.35" ry="5.3" fill="#000"/>
<ellipse cx="436.7" cy="742.8" rx="4.35" ry="5.3" fill="#000"/>
<ellipse cx="440.5" cy="773.4" rx="4.35" ry="5.3" fill="#000"/>
<ellipse cx="440.5" cy="783.4" rx="4.35" ry="5.3" fill="#000"/>
<path d="M233,615 V632 M296.8,615 V632 M233,623.8 H296.8" stroke="#000" stroke-width="1.2" fill="none"/>
<text class="sf" x="254.0" y="624.6" font-size="23" textLength="21.5" lengthAdjust="spacingAndGlyphs" style="font-weight:normal">**</text>
<text class="sf" x="224.8" y="733.4" font-size="23" textLength="22.5" lengthAdjust="spacingAndGlyphs" style="font-weight:normal">**</text>
</g>
</svg>
</body></html>
